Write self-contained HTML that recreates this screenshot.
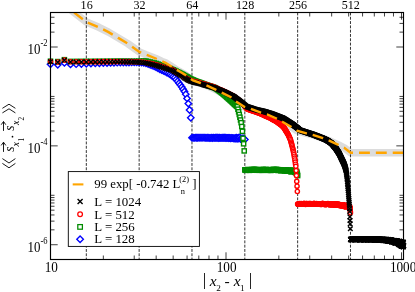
<!DOCTYPE html>
<html><head><meta charset="utf-8"><title>chart</title>
<style>html,body{margin:0;padding:0;background:#fff;font-family:"Liberation Serif",serif}svg{display:block;will-change:transform}</style></head>
<body>
<svg width="415" height="292" viewBox="0 0 415 292">
<rect width="415" height="292" fill="#fff"/>
<defs><clipPath id="c"><rect x="50.5" y="12.5" width="353" height="247"/></clipPath>
<path id="dm" d="M0-3.2L3.2 0L0 3.2L-3.2 0Z"/>
<rect id="sq" x="-2.1" y="-2.1" width="4.2" height="4.2"/>
<circle id="ci" r="2.1"/>
<path id="xx" d="M-2.3-2.3L2.3 2.3M-2.3 2.3L2.3-2.3"/>
</defs>
<path clip-path="url(#c)" d="M70 9L73.9 12.4L86.4 22L98.9 27.3L108.5 32.1L118.2 37.9L127.8 43.6L139.4 51.9L146.1 54.7L155.8 58.5L162 61.4L165.6 62.8L170.7 66L175.9 69.4L180.1 71.8L185.5 75L190.3 78.7L193 80.5L200.4 83L206 85.2L215.6 89.6L221.4 92.5L231 97.3L236 101.4L240 104L244.5 107L250.8 108.9L260.9 112.7L267 114.4L276.5 118.5L282.3 121.8L291 126.7L296.8 130.6L306.5 133.4L312.8 134.9L322.9 138.2L329.2 140.7L338.4 144.9L344.2 147.8L350.6 152.8L403.5 152.8" fill="none" stroke="#dcdcdc" stroke-width="7.5" stroke-linejoin="round"/>
<line x1="86.32" y1="12.5" x2="86.32" y2="259.5" stroke="#000" stroke-width="0.8" stroke-dasharray="2.9 1.4"/>
<line x1="139.15" y1="12.5" x2="139.15" y2="259.5" stroke="#000" stroke-width="0.8" stroke-dasharray="2.9 1.4"/>
<line x1="191.98" y1="12.5" x2="191.98" y2="259.5" stroke="#000" stroke-width="0.8" stroke-dasharray="2.9 1.4"/>
<line x1="244.82" y1="12.5" x2="244.82" y2="259.5" stroke="#000" stroke-width="0.8" stroke-dasharray="2.9 1.4"/>
<line x1="297.65" y1="12.5" x2="297.65" y2="259.5" stroke="#000" stroke-width="0.8" stroke-dasharray="2.9 1.4"/>
<line x1="350.48" y1="12.5" x2="350.48" y2="259.5" stroke="#000" stroke-width="0.8" stroke-dasharray="2.9 1.4"/>
<g fill="#fff" stroke="#0000ff" stroke-width="1.4">
<use href="#dm" x="50.5" y="64.31"/><use href="#dm" x="57.76" y="64.78"/><use href="#dm" x="64.4" y="62.9"/><use href="#dm" x="70.5" y="64.4"/><use href="#dm" x="76.15" y="64.18"/><use href="#dm" x="81.4" y="63.98"/><use href="#dm" x="86.32" y="63.79"/><use href="#dm" x="90.94" y="63.59"/><use href="#dm" x="95.3" y="63.4"/><use href="#dm" x="99.42" y="63.22"/><use href="#dm" x="103.33" y="63.1"/><use href="#dm" x="107.05" y="62.99"/><use href="#dm" x="110.6" y="62.88"/><use href="#dm" x="113.98" y="62.78"/><use href="#dm" x="117.23" y="62.68"/><use href="#dm" x="120.34" y="62.59"/><use href="#dm" x="123.33" y="62.55"/><use href="#dm" x="126.2" y="62.5"/><use href="#dm" x="128.98" y="62.46"/><use href="#dm" x="131.65" y="62.42"/><use href="#dm" x="134.23" y="62.38"/><use href="#dm" x="136.73" y="62.34"/><use href="#dm" x="139.15" y="62.32"/><use href="#dm" x="141.5" y="62.59"/><use href="#dm" x="143.77" y="62.86"/><use href="#dm" x="145.98" y="63.31"/><use href="#dm" x="148.13" y="64"/><use href="#dm" x="150.22" y="64.7"/><use href="#dm" x="152.25" y="65.58"/><use href="#dm" x="154.23" y="66.43"/><use href="#dm" x="156.16" y="67.28"/><use href="#dm" x="158.04" y="68.27"/><use href="#dm" x="159.88" y="69.24"/><use href="#dm" x="161.67" y="70.07"/><use href="#dm" x="163.43" y="70.88"/><use href="#dm" x="165.14" y="71.67"/><use href="#dm" x="166.81" y="72.55"/><use href="#dm" x="168.45" y="73.4"/><use href="#dm" x="170.06" y="74.34"/><use href="#dm" x="171.63" y="75.49"/><use href="#dm" x="173.17" y="76.62"/><use href="#dm" x="174.68" y="77.8"/><use href="#dm" x="176.16" y="79.5"/><use href="#dm" x="177.61" y="81.3"/><use href="#dm" x="179.04" y="83.2"/><use href="#dm" x="180.43" y="85.1"/><use href="#dm" x="181.81" y="87.1"/><use href="#dm" x="183.16" y="89.3"/><use href="#dm" x="184.48" y="91.5"/><use href="#dm" x="185.78" y="94.3"/><use href="#dm" x="187.07" y="98.4"/><use href="#dm" x="188.33" y="103.6"/><use href="#dm" x="189.56" y="110"/><use href="#dm" x="190.78" y="117.8"/><use href="#dm" x="191.98" y="137.75"/><use href="#dm" x="193.17" y="137.7"/><use href="#dm" x="194.33" y="137.85"/><use href="#dm" x="195.48" y="137.67"/><use href="#dm" x="196.61" y="137.81"/><use href="#dm" x="197.72" y="137.76"/><use href="#dm" x="198.81" y="137.67"/><use href="#dm" x="199.9" y="137.8"/><use href="#dm" x="200.96" y="137.66"/><use href="#dm" x="202.01" y="137.78"/><use href="#dm" x="203.05" y="137.67"/><use href="#dm" x="204.07" y="137.68"/><use href="#dm" x="205.08" y="137.78"/><use href="#dm" x="206.08" y="137.9"/><use href="#dm" x="207.06" y="137.69"/><use href="#dm" x="208.03" y="137.72"/><use href="#dm" x="208.99" y="137.84"/><use href="#dm" x="209.94" y="137.94"/><use href="#dm" x="210.87" y="137.83"/><use href="#dm" x="211.8" y="137.78"/><use href="#dm" x="212.71" y="137.95"/><use href="#dm" x="213.61" y="137.67"/><use href="#dm" x="214.5" y="137.92"/><use href="#dm" x="215.39" y="137.75"/><use href="#dm" x="216.26" y="137.71"/><use href="#dm" x="217.12" y="137.7"/><use href="#dm" x="217.97" y="137.77"/><use href="#dm" x="218.81" y="137.94"/><use href="#dm" x="219.64" y="137.73"/><use href="#dm" x="220.47" y="137.87"/><use href="#dm" x="221.28" y="137.9"/><use href="#dm" x="222.09" y="137.81"/><use href="#dm" x="222.89" y="137.89"/><use href="#dm" x="223.68" y="137.7"/><use href="#dm" x="224.46" y="137.71"/><use href="#dm" x="225.23" y="137.77"/><use href="#dm" x="226" y="137.99"/><use href="#dm" x="226.76" y="137.89"/><use href="#dm" x="227.51" y="137.84"/><use href="#dm" x="228.25" y="138"/><use href="#dm" x="228.99" y="137.94"/><use href="#dm" x="229.72" y="137.86"/><use href="#dm" x="230.44" y="138.2"/><use href="#dm" x="231.16" y="138.17"/><use href="#dm" x="231.87" y="137.85"/><use href="#dm" x="232.57" y="138.13"/><use href="#dm" x="233.26" y="138.11"/><use href="#dm" x="233.95" y="138.48"/><use href="#dm" x="234.64" y="138.39"/><use href="#dm" x="235.32" y="137.93"/><use href="#dm" x="235.99" y="138.8"/><use href="#dm" x="236.65" y="137.72"/><use href="#dm" x="237.31" y="138.15"/><use href="#dm" x="237.97" y="138.71"/><use href="#dm" x="238.62" y="137.74"/><use href="#dm" x="239.26" y="138.35"/><use href="#dm" x="239.9" y="137.48"/><use href="#dm" x="240.53" y="138.82"/><use href="#dm" x="241.16" y="139.12"/><use href="#dm" x="241.78" y="138.73"/><use href="#dm" x="242.4" y="139.62"/><use href="#dm" x="243.01" y="138.19"/><use href="#dm" x="243.62" y="139.52"/><use href="#dm" x="244.22" y="139.37"/><use href="#dm" x="244.82" y="139.5"/>
</g>
<g fill="#fff" stroke="#008b00" stroke-width="1.4">
<use href="#sq" x="50.5" y="61.21"/><use href="#sq" x="57.76" y="61.59"/><use href="#sq" x="64.4" y="59.7"/><use href="#sq" x="70.5" y="61.4"/><use href="#sq" x="76.15" y="61.38"/><use href="#sq" x="81.4" y="61.36"/><use href="#sq" x="86.32" y="61.35"/><use href="#sq" x="90.94" y="61.33"/><use href="#sq" x="95.3" y="61.32"/><use href="#sq" x="99.42" y="61.3"/><use href="#sq" x="103.33" y="61.28"/><use href="#sq" x="107.05" y="61.26"/><use href="#sq" x="110.6" y="61.25"/><use href="#sq" x="113.98" y="61.23"/><use href="#sq" x="117.23" y="61.21"/><use href="#sq" x="120.34" y="61.2"/><use href="#sq" x="123.33" y="61.24"/><use href="#sq" x="126.2" y="61.28"/><use href="#sq" x="128.98" y="61.31"/><use href="#sq" x="131.65" y="61.35"/><use href="#sq" x="134.23" y="61.38"/><use href="#sq" x="136.73" y="61.37"/><use href="#sq" x="139.15" y="61.27"/><use href="#sq" x="141.5" y="61.17"/><use href="#sq" x="143.77" y="61.08"/><use href="#sq" x="145.98" y="61.09"/><use href="#sq" x="148.13" y="61.57"/><use href="#sq" x="150.22" y="62.05"/><use href="#sq" x="152.25" y="62.51"/><use href="#sq" x="154.23" y="62.96"/><use href="#sq" x="156.16" y="63.49"/><use href="#sq" x="158.04" y="64.11"/><use href="#sq" x="159.88" y="64.73"/><use href="#sq" x="161.67" y="65.32"/><use href="#sq" x="163.43" y="65.91"/><use href="#sq" x="165.14" y="66.5"/><use href="#sq" x="166.81" y="67.19"/><use href="#sq" x="168.45" y="67.87"/><use href="#sq" x="170.06" y="68.53"/><use href="#sq" x="171.63" y="69.18"/><use href="#sq" x="173.17" y="69.81"/><use href="#sq" x="174.68" y="70.44"/><use href="#sq" x="176.16" y="71.16"/><use href="#sq" x="177.61" y="71.86"/><use href="#sq" x="179.04" y="72.55"/><use href="#sq" x="180.43" y="73.23"/><use href="#sq" x="181.81" y="73.92"/><use href="#sq" x="183.16" y="74.67"/><use href="#sq" x="184.48" y="75.4"/><use href="#sq" x="185.78" y="76.13"/><use href="#sq" x="187.07" y="76.84"/><use href="#sq" x="188.33" y="77.54"/><use href="#sq" x="189.56" y="78.23"/><use href="#sq" x="190.78" y="78.91"/><use href="#sq" x="191.98" y="79.49"/><use href="#sq" x="193.17" y="79.99"/><use href="#sq" x="194.33" y="80.49"/><use href="#sq" x="195.48" y="80.98"/><use href="#sq" x="196.61" y="81.41"/><use href="#sq" x="197.72" y="81.8"/><use href="#sq" x="198.81" y="82.18"/><use href="#sq" x="199.9" y="82.55"/><use href="#sq" x="200.96" y="82.92"/><use href="#sq" x="202.01" y="83.31"/><use href="#sq" x="203.05" y="83.7"/><use href="#sq" x="204.07" y="84.08"/><use href="#sq" x="205.08" y="84.46"/><use href="#sq" x="206.08" y="84.83"/><use href="#sq" x="207.06" y="85.15"/><use href="#sq" x="208.03" y="85.46"/><use href="#sq" x="208.99" y="85.78"/><use href="#sq" x="209.94" y="86.08"/><use href="#sq" x="210.87" y="86.39"/><use href="#sq" x="211.8" y="86.71"/><use href="#sq" x="212.71" y="87.02"/><use href="#sq" x="213.61" y="87.33"/><use href="#sq" x="214.5" y="87.63"/><use href="#sq" x="215.39" y="88.07"/><use href="#sq" x="216.26" y="88.69"/><use href="#sq" x="217.12" y="89.31"/><use href="#sq" x="217.97" y="89.91"/><use href="#sq" x="218.81" y="90.51"/><use href="#sq" x="219.64" y="91.12"/><use href="#sq" x="220.47" y="91.79"/><use href="#sq" x="221.28" y="92.45"/><use href="#sq" x="222.09" y="93.1"/><use href="#sq" x="222.89" y="93.75"/><use href="#sq" x="223.68" y="94.39"/><use href="#sq" x="224.46" y="95.04"/><use href="#sq" x="225.23" y="95.74"/><use href="#sq" x="226" y="96.42"/><use href="#sq" x="226.76" y="97.1"/><use href="#sq" x="227.51" y="97.78"/><use href="#sq" x="228.25" y="98.44"/><use href="#sq" x="228.99" y="99.1"/><use href="#sq" x="229.72" y="99.75"/><use href="#sq" x="230.44" y="100.4"/><use href="#sq" x="231.16" y="101.04"/><use href="#sq" x="231.87" y="101.68"/><use href="#sq" x="232.57" y="102.35"/><use href="#sq" x="233.26" y="103.01"/><use href="#sq" x="233.95" y="103.68"/><use href="#sq" x="234.64" y="104.32"/><use href="#sq" x="235.32" y="104.92"/><use href="#sq" x="235.99" y="105.52"/><use href="#sq" x="236.65" y="106.11"/><use href="#sq" x="237.31" y="106.7"/><use href="#sq" x="237.97" y="109.2"/><use href="#sq" x="238.62" y="111.8"/><use href="#sq" x="239.26" y="114.5"/><use href="#sq" x="239.9" y="117.2"/><use href="#sq" x="240.53" y="120"/><use href="#sq" x="241.16" y="122.7"/><use href="#sq" x="241.78" y="126.5"/><use href="#sq" x="242.4" y="131.3"/><use href="#sq" x="243.01" y="138.3"/><use href="#sq" x="243.62" y="143.8"/><use href="#sq" x="244.22" y="150.9"/><use href="#sq" x="244.82" y="169.86"/><use href="#sq" x="245.41" y="170.21"/><use href="#sq" x="246" y="170.3"/><use href="#sq" x="246.58" y="169.88"/><use href="#sq" x="247.16" y="170.05"/><use href="#sq" x="247.74" y="169.5"/><use href="#sq" x="248.31" y="170.08"/><use href="#sq" x="248.87" y="170.03"/><use href="#sq" x="249.44" y="170.34"/><use href="#sq" x="249.99" y="170.19"/><use href="#sq" x="250.55" y="169.71"/><use href="#sq" x="251.1" y="169.8"/><use href="#sq" x="251.65" y="170.05"/><use href="#sq" x="252.19" y="169.47"/><use href="#sq" x="252.73" y="169.87"/><use href="#sq" x="253.26" y="169.6"/><use href="#sq" x="253.79" y="169.56"/><use href="#sq" x="254.32" y="169.5"/><use href="#sq" x="254.84" y="170.14"/><use href="#sq" x="255.36" y="169.57"/><use href="#sq" x="255.88" y="169.67"/><use href="#sq" x="256.39" y="169.8"/><use href="#sq" x="256.9" y="170.24"/><use href="#sq" x="257.41" y="169.52"/><use href="#sq" x="257.91" y="169.86"/><use href="#sq" x="258.41" y="169.95"/><use href="#sq" x="258.91" y="170.25"/><use href="#sq" x="259.4" y="170.19"/><use href="#sq" x="259.89" y="170.23"/><use href="#sq" x="260.38" y="169.7"/><use href="#sq" x="260.86" y="169.83"/><use href="#sq" x="261.35" y="169.78"/><use href="#sq" x="261.82" y="170.25"/><use href="#sq" x="262.3" y="170.32"/><use href="#sq" x="262.77" y="169.59"/><use href="#sq" x="263.24" y="169.62"/><use href="#sq" x="263.71" y="169.67"/><use href="#sq" x="264.17" y="169.67"/><use href="#sq" x="264.63" y="169.9"/><use href="#sq" x="265.09" y="170"/><use href="#sq" x="265.54" y="169.7"/><use href="#sq" x="265.99" y="169.47"/><use href="#sq" x="266.44" y="169.85"/><use href="#sq" x="266.89" y="169.81"/><use href="#sq" x="267.34" y="169.99"/><use href="#sq" x="267.78" y="170.34"/><use href="#sq" x="268.22" y="170.1"/><use href="#sq" x="268.65" y="169.95"/><use href="#sq" x="269.09" y="170.05"/><use href="#sq" x="269.52" y="170.1"/><use href="#sq" x="269.95" y="169.54"/><use href="#sq" x="270.38" y="170.31"/><use href="#sq" x="270.8" y="170.21"/><use href="#sq" x="271.22" y="170.3"/><use href="#sq" x="271.64" y="170.24"/><use href="#sq" x="272.06" y="169.87"/><use href="#sq" x="272.48" y="169.88"/><use href="#sq" x="272.89" y="169.62"/><use href="#sq" x="273.3" y="170.11"/><use href="#sq" x="273.71" y="169.59"/><use href="#sq" x="274.11" y="169.6"/><use href="#sq" x="274.52" y="169.74"/><use href="#sq" x="274.92" y="169.7"/><use href="#sq" x="275.32" y="169.87"/><use href="#sq" x="275.72" y="169.61"/><use href="#sq" x="276.12" y="169.57"/><use href="#sq" x="276.51" y="169.72"/><use href="#sq" x="276.9" y="169.68"/><use href="#sq" x="277.29" y="169.94"/><use href="#sq" x="277.68" y="169.62"/><use href="#sq" x="278.06" y="170.45"/><use href="#sq" x="278.45" y="170.21"/><use href="#sq" x="278.83" y="169.77"/><use href="#sq" x="279.21" y="169.88"/><use href="#sq" x="279.59" y="169.98"/><use href="#sq" x="279.97" y="170.01"/><use href="#sq" x="280.34" y="169.78"/><use href="#sq" x="280.71" y="170.53"/><use href="#sq" x="281.08" y="170.69"/><use href="#sq" x="281.45" y="170.17"/><use href="#sq" x="281.82" y="170.2"/><use href="#sq" x="282.19" y="169.81"/><use href="#sq" x="282.55" y="169.83"/><use href="#sq" x="282.91" y="170.1"/><use href="#sq" x="283.27" y="170.04"/><use href="#sq" x="283.63" y="170.66"/><use href="#sq" x="283.99" y="169.95"/><use href="#sq" x="284.34" y="169.82"/><use href="#sq" x="284.7" y="170.87"/><use href="#sq" x="285.05" y="170.42"/><use href="#sq" x="285.4" y="170"/><use href="#sq" x="285.75" y="170.48"/><use href="#sq" x="286.1" y="169.89"/><use href="#sq" x="286.44" y="170.51"/><use href="#sq" x="286.78" y="171.08"/><use href="#sq" x="287.13" y="170.98"/><use href="#sq" x="287.47" y="170.8"/><use href="#sq" x="287.81" y="170.27"/><use href="#sq" x="288.15" y="170.43"/><use href="#sq" x="288.48" y="170.19"/><use href="#sq" x="288.82" y="171.03"/><use href="#sq" x="289.15" y="170.74"/><use href="#sq" x="289.48" y="171.11"/><use href="#sq" x="289.81" y="170.51"/><use href="#sq" x="290.14" y="170.38"/><use href="#sq" x="290.47" y="171.28"/><use href="#sq" x="290.8" y="171.58"/><use href="#sq" x="291.12" y="171.42"/><use href="#sq" x="291.45" y="171.4"/><use href="#sq" x="291.77" y="171.46"/><use href="#sq" x="292.09" y="171.38"/><use href="#sq" x="292.41" y="170.57"/><use href="#sq" x="292.73" y="171.1"/><use href="#sq" x="293.04" y="170.85"/><use href="#sq" x="293.36" y="170.3"/><use href="#sq" x="293.67" y="170.32"/><use href="#sq" x="293.99" y="170.81"/><use href="#sq" x="294.3" y="170.81"/><use href="#sq" x="294.61" y="171.69"/><use href="#sq" x="294.92" y="172.27"/><use href="#sq" x="295.23" y="171.29"/><use href="#sq" x="295.53" y="172.37"/><use href="#sq" x="295.84" y="172.55"/><use href="#sq" x="296.14" y="172.55"/><use href="#sq" x="296.45" y="171.29"/><use href="#sq" x="296.75" y="172.12"/><use href="#sq" x="297.05" y="173.3"/><use href="#sq" x="297.35" y="174.38"/><use href="#sq" x="297.65" y="175.56"/>
</g>
<g fill="#fff" stroke="#ff0000" stroke-width="1.4">
<use href="#ci" x="50.5" y="61.61"/><use href="#ci" x="57.76" y="61.98"/><use href="#ci" x="64.4" y="60.08"/><use href="#ci" x="70.5" y="61.78"/><use href="#ci" x="76.15" y="61.75"/><use href="#ci" x="81.4" y="61.73"/><use href="#ci" x="86.32" y="61.71"/><use href="#ci" x="90.94" y="61.68"/><use href="#ci" x="95.3" y="61.67"/><use href="#ci" x="99.42" y="61.65"/><use href="#ci" x="103.33" y="61.62"/><use href="#ci" x="107.05" y="61.6"/><use href="#ci" x="110.6" y="61.58"/><use href="#ci" x="113.98" y="61.56"/><use href="#ci" x="117.23" y="61.54"/><use href="#ci" x="120.34" y="61.53"/><use href="#ci" x="123.33" y="61.56"/><use href="#ci" x="126.2" y="61.59"/><use href="#ci" x="128.98" y="61.62"/><use href="#ci" x="131.65" y="61.65"/><use href="#ci" x="134.23" y="61.68"/><use href="#ci" x="136.73" y="61.76"/><use href="#ci" x="139.15" y="61.93"/><use href="#ci" x="141.5" y="62.11"/><use href="#ci" x="143.77" y="62.27"/><use href="#ci" x="145.98" y="62.49"/><use href="#ci" x="148.13" y="62.96"/><use href="#ci" x="150.22" y="63.41"/><use href="#ci" x="152.25" y="63.86"/><use href="#ci" x="154.23" y="64.29"/><use href="#ci" x="156.16" y="64.78"/><use href="#ci" x="158.04" y="65.34"/><use href="#ci" x="159.88" y="65.89"/><use href="#ci" x="161.67" y="66.43"/><use href="#ci" x="163.43" y="66.96"/><use href="#ci" x="165.14" y="67.47"/><use href="#ci" x="166.81" y="67.97"/><use href="#ci" x="168.45" y="68.45"/><use href="#ci" x="170.06" y="68.93"/><use href="#ci" x="171.63" y="69.39"/><use href="#ci" x="173.17" y="70.17"/><use href="#ci" x="174.68" y="71.03"/><use href="#ci" x="176.16" y="71.88"/><use href="#ci" x="177.61" y="72.71"/><use href="#ci" x="179.04" y="73.53"/><use href="#ci" x="180.43" y="74.33"/><use href="#ci" x="181.81" y="75.15"/><use href="#ci" x="183.16" y="76.11"/><use href="#ci" x="184.48" y="77.06"/><use href="#ci" x="185.78" y="77.99"/><use href="#ci" x="187.07" y="78.77"/><use href="#ci" x="188.33" y="79.37"/><use href="#ci" x="189.56" y="79.97"/><use href="#ci" x="190.78" y="80.55"/><use href="#ci" x="191.98" y="80.97"/><use href="#ci" x="193.17" y="81.27"/><use href="#ci" x="194.33" y="81.56"/><use href="#ci" x="195.48" y="81.84"/><use href="#ci" x="196.61" y="82.13"/><use href="#ci" x="197.72" y="82.4"/><use href="#ci" x="198.81" y="82.68"/><use href="#ci" x="199.9" y="82.95"/><use href="#ci" x="200.96" y="83.22"/><use href="#ci" x="202.01" y="83.51"/><use href="#ci" x="203.05" y="83.81"/><use href="#ci" x="204.07" y="84.1"/><use href="#ci" x="205.08" y="84.38"/><use href="#ci" x="206.08" y="84.66"/><use href="#ci" x="207.06" y="84.94"/><use href="#ci" x="208.03" y="85.22"/><use href="#ci" x="208.99" y="85.49"/><use href="#ci" x="209.94" y="85.75"/><use href="#ci" x="210.87" y="86.03"/><use href="#ci" x="211.8" y="86.33"/><use href="#ci" x="212.71" y="86.63"/><use href="#ci" x="213.61" y="86.92"/><use href="#ci" x="214.5" y="87.21"/><use href="#ci" x="215.39" y="87.58"/><use href="#ci" x="216.26" y="87.96"/><use href="#ci" x="217.12" y="88.34"/><use href="#ci" x="217.97" y="88.71"/><use href="#ci" x="218.81" y="89.08"/><use href="#ci" x="219.64" y="89.45"/><use href="#ci" x="220.47" y="89.81"/><use href="#ci" x="221.28" y="90.16"/><use href="#ci" x="222.09" y="90.52"/><use href="#ci" x="222.89" y="90.87"/><use href="#ci" x="223.68" y="91.21"/><use href="#ci" x="224.46" y="91.57"/><use href="#ci" x="225.23" y="91.97"/><use href="#ci" x="226" y="92.36"/><use href="#ci" x="226.76" y="92.76"/><use href="#ci" x="227.51" y="93.15"/><use href="#ci" x="228.25" y="93.53"/><use href="#ci" x="228.99" y="93.91"/><use href="#ci" x="229.72" y="94.29"/><use href="#ci" x="230.44" y="94.66"/><use href="#ci" x="231.16" y="95.04"/><use href="#ci" x="231.87" y="95.4"/><use href="#ci" x="232.57" y="95.77"/><use href="#ci" x="233.26" y="96.13"/><use href="#ci" x="233.95" y="96.5"/><use href="#ci" x="234.64" y="97.03"/><use href="#ci" x="235.32" y="97.55"/><use href="#ci" x="235.99" y="98.07"/><use href="#ci" x="236.65" y="98.58"/><use href="#ci" x="237.31" y="99.09"/><use href="#ci" x="237.97" y="99.59"/><use href="#ci" x="238.62" y="100.09"/><use href="#ci" x="239.26" y="100.59"/><use href="#ci" x="239.9" y="101.08"/><use href="#ci" x="240.53" y="101.57"/><use href="#ci" x="241.16" y="102.05"/><use href="#ci" x="241.78" y="102.53"/><use href="#ci" x="242.4" y="103.2"/><use href="#ci" x="243.01" y="103.98"/><use href="#ci" x="243.62" y="104.75"/><use href="#ci" x="244.22" y="105.51"/><use href="#ci" x="244.82" y="106.27"/><use href="#ci" x="245.41" y="107.02"/><use href="#ci" x="246" y="107.76"/><use href="#ci" x="246.58" y="108.44"/><use href="#ci" x="247.16" y="108.7"/><use href="#ci" x="247.74" y="108.97"/><use href="#ci" x="248.31" y="109.23"/><use href="#ci" x="248.87" y="109.49"/><use href="#ci" x="249.44" y="109.74"/><use href="#ci" x="249.99" y="110"/><use href="#ci" x="250.55" y="110.17"/><use href="#ci" x="251.1" y="110.35"/><use href="#ci" x="251.65" y="110.52"/><use href="#ci" x="252.19" y="110.69"/><use href="#ci" x="252.73" y="110.86"/><use href="#ci" x="253.26" y="111.03"/><use href="#ci" x="253.79" y="111.2"/><use href="#ci" x="254.32" y="111.37"/><use href="#ci" x="254.84" y="111.53"/><use href="#ci" x="255.36" y="111.7"/><use href="#ci" x="255.88" y="111.86"/><use href="#ci" x="256.39" y="112.04"/><use href="#ci" x="256.9" y="112.22"/><use href="#ci" x="257.41" y="112.39"/><use href="#ci" x="257.91" y="112.57"/><use href="#ci" x="258.41" y="112.74"/><use href="#ci" x="258.91" y="112.92"/><use href="#ci" x="259.4" y="113.09"/><use href="#ci" x="259.89" y="113.26"/><use href="#ci" x="260.38" y="113.48"/><use href="#ci" x="260.86" y="113.71"/><use href="#ci" x="261.35" y="113.94"/><use href="#ci" x="261.82" y="114.17"/><use href="#ci" x="262.3" y="114.39"/><use href="#ci" x="262.77" y="114.62"/><use href="#ci" x="263.24" y="114.84"/><use href="#ci" x="263.71" y="115.06"/><use href="#ci" x="264.17" y="115.27"/><use href="#ci" x="264.63" y="115.47"/><use href="#ci" x="265.09" y="115.67"/><use href="#ci" x="265.54" y="115.87"/><use href="#ci" x="265.99" y="116.06"/><use href="#ci" x="266.44" y="116.26"/><use href="#ci" x="266.89" y="116.45"/><use href="#ci" x="267.34" y="116.65"/><use href="#ci" x="267.78" y="116.84"/><use href="#ci" x="268.22" y="117.03"/><use href="#ci" x="268.65" y="117.22"/><use href="#ci" x="269.09" y="117.4"/><use href="#ci" x="269.52" y="117.59"/><use href="#ci" x="269.95" y="117.78"/><use href="#ci" x="270.38" y="118.01"/><use href="#ci" x="270.8" y="118.25"/><use href="#ci" x="271.22" y="118.48"/><use href="#ci" x="271.64" y="118.72"/><use href="#ci" x="272.06" y="118.95"/><use href="#ci" x="272.48" y="119.19"/><use href="#ci" x="272.89" y="119.42"/><use href="#ci" x="273.3" y="119.65"/><use href="#ci" x="273.71" y="119.88"/><use href="#ci" x="274.11" y="120.1"/><use href="#ci" x="274.52" y="120.33"/><use href="#ci" x="274.92" y="120.56"/><use href="#ci" x="275.32" y="120.81"/><use href="#ci" x="275.72" y="121.07"/><use href="#ci" x="276.12" y="121.34"/><use href="#ci" x="276.51" y="121.6"/><use href="#ci" x="276.9" y="121.85"/><use href="#ci" x="277.29" y="122.11"/><use href="#ci" x="277.68" y="122.37"/><use href="#ci" x="278.06" y="122.62"/><use href="#ci" x="278.45" y="122.88"/><use href="#ci" x="278.83" y="123.13"/><use href="#ci" x="279.21" y="123.38"/><use href="#ci" x="279.59" y="123.63"/><use href="#ci" x="279.97" y="123.88"/><use href="#ci" x="280.34" y="124.2"/><use href="#ci" x="280.71" y="124.53"/><use href="#ci" x="281.08" y="124.85"/><use href="#ci" x="281.45" y="125.18"/><use href="#ci" x="281.82" y="125.5"/><use href="#ci" x="282.19" y="125.82"/><use href="#ci" x="282.55" y="126.14"/><use href="#ci" x="282.91" y="126.46"/><use href="#ci" x="283.27" y="126.78"/><use href="#ci" x="283.63" y="127.29"/><use href="#ci" x="283.99" y="127.81"/><use href="#ci" x="284.34" y="128.33"/><use href="#ci" x="284.7" y="128.85"/><use href="#ci" x="285.05" y="129.38"/><use href="#ci" x="285.4" y="129.97"/><use href="#ci" x="285.75" y="130.55"/><use href="#ci" x="286.1" y="131.13"/><use href="#ci" x="286.44" y="131.7"/><use href="#ci" x="286.78" y="132.27"/><use href="#ci" x="287.13" y="132.85"/><use href="#ci" x="287.47" y="133.41"/><use href="#ci" x="287.81" y="133.98"/><use href="#ci" x="288.15" y="134.62"/><use href="#ci" x="288.48" y="135.35"/><use href="#ci" x="288.82" y="136.07"/><use href="#ci" x="289.15" y="136.79"/><use href="#ci" x="289.48" y="137.51"/><use href="#ci" x="289.81" y="138.23"/><use href="#ci" x="290.14" y="138.94"/><use href="#ci" x="290.47" y="139.77"/><use href="#ci" x="290.8" y="140.99"/><use href="#ci" x="291.12" y="142.21"/><use href="#ci" x="291.45" y="143.42"/><use href="#ci" x="291.77" y="144.63"/><use href="#ci" x="292.09" y="145.87"/><use href="#ci" x="292.41" y="147.2"/><use href="#ci" x="292.73" y="148.53"/><use href="#ci" x="293.04" y="149.85"/><use href="#ci" x="293.36" y="151.3"/><use href="#ci" x="293.67" y="152.87"/><use href="#ci" x="293.99" y="154.43"/><use href="#ci" x="294.3" y="156.19"/><use href="#ci" x="294.61" y="158.05"/><use href="#ci" x="294.92" y="159.93"/><use href="#ci" x="295.23" y="162.06"/><use href="#ci" x="295.53" y="164.18"/><use href="#ci" x="295.84" y="166.3"/><use href="#ci" x="296.14" y="170.6"/><use href="#ci" x="296.45" y="175.6"/><use href="#ci" x="296.75" y="181.4"/><use href="#ci" x="297.05" y="186.2"/><use href="#ci" x="297.35" y="191.5"/><use href="#ci" x="297.65" y="204.01"/><use href="#ci" x="297.94" y="204.26"/><use href="#ci" x="298.24" y="204.21"/><use href="#ci" x="298.53" y="203.88"/><use href="#ci" x="298.83" y="204.04"/><use href="#ci" x="299.12" y="204.17"/><use href="#ci" x="299.41" y="203.53"/><use href="#ci" x="299.7" y="204.04"/><use href="#ci" x="299.99" y="204.27"/><use href="#ci" x="300.28" y="204.15"/><use href="#ci" x="300.57" y="204.13"/><use href="#ci" x="300.85" y="203.88"/><use href="#ci" x="301.14" y="203.61"/><use href="#ci" x="301.42" y="204.16"/><use href="#ci" x="301.7" y="203.75"/><use href="#ci" x="301.99" y="204.17"/><use href="#ci" x="302.27" y="204.32"/><use href="#ci" x="302.55" y="203.81"/><use href="#ci" x="302.83" y="203.81"/><use href="#ci" x="303.1" y="204.3"/><use href="#ci" x="303.38" y="204.1"/><use href="#ci" x="303.66" y="203.6"/><use href="#ci" x="303.93" y="203.56"/><use href="#ci" x="304.2" y="203.59"/><use href="#ci" x="304.48" y="204.26"/><use href="#ci" x="304.75" y="204.18"/><use href="#ci" x="305.02" y="203.58"/><use href="#ci" x="305.29" y="204.19"/><use href="#ci" x="305.56" y="204.33"/><use href="#ci" x="305.83" y="204.04"/><use href="#ci" x="306.09" y="203.77"/><use href="#ci" x="306.36" y="203.94"/><use href="#ci" x="306.62" y="203.57"/><use href="#ci" x="306.89" y="203.46"/><use href="#ci" x="307.15" y="204.32"/><use href="#ci" x="307.41" y="204.04"/><use href="#ci" x="307.67" y="203.92"/><use href="#ci" x="307.94" y="204.29"/><use href="#ci" x="308.19" y="203.84"/><use href="#ci" x="308.45" y="204.24"/><use href="#ci" x="308.71" y="204.19"/><use href="#ci" x="308.97" y="203.64"/><use href="#ci" x="309.22" y="203.68"/><use href="#ci" x="309.48" y="203.72"/><use href="#ci" x="309.73" y="203.67"/><use href="#ci" x="309.99" y="203.98"/><use href="#ci" x="310.24" y="203.69"/><use href="#ci" x="310.49" y="203.83"/><use href="#ci" x="310.74" y="203.57"/><use href="#ci" x="310.99" y="204.27"/><use href="#ci" x="311.24" y="203.77"/><use href="#ci" x="311.49" y="203.87"/><use href="#ci" x="311.74" y="203.98"/><use href="#ci" x="311.99" y="204.27"/><use href="#ci" x="312.23" y="203.83"/><use href="#ci" x="312.48" y="204.28"/><use href="#ci" x="312.72" y="203.91"/><use href="#ci" x="312.97" y="203.94"/><use href="#ci" x="313.21" y="203.93"/><use href="#ci" x="313.45" y="203.47"/><use href="#ci" x="313.7" y="203.85"/><use href="#ci" x="313.94" y="203.62"/><use href="#ci" x="314.18" y="203.46"/><use href="#ci" x="314.42" y="204.18"/><use href="#ci" x="314.65" y="203.62"/><use href="#ci" x="314.89" y="203.89"/><use href="#ci" x="315.13" y="204.12"/><use href="#ci" x="315.37" y="203.97"/><use href="#ci" x="315.6" y="203.76"/><use href="#ci" x="315.84" y="203.93"/><use href="#ci" x="316.07" y="203.97"/><use href="#ci" x="316.3" y="204.17"/><use href="#ci" x="316.54" y="203.56"/><use href="#ci" x="316.77" y="203.98"/><use href="#ci" x="317" y="203.7"/><use href="#ci" x="317.23" y="203.72"/><use href="#ci" x="317.46" y="204.17"/><use href="#ci" x="317.69" y="203.93"/><use href="#ci" x="317.92" y="203.98"/><use href="#ci" x="318.15" y="204.16"/><use href="#ci" x="318.37" y="204.3"/><use href="#ci" x="318.6" y="203.88"/><use href="#ci" x="318.82" y="204.04"/><use href="#ci" x="319.05" y="203.94"/><use href="#ci" x="319.27" y="203.95"/><use href="#ci" x="319.5" y="204.12"/><use href="#ci" x="319.72" y="203.9"/><use href="#ci" x="319.94" y="203.98"/><use href="#ci" x="320.17" y="203.93"/><use href="#ci" x="320.39" y="204.35"/><use href="#ci" x="320.61" y="204.13"/><use href="#ci" x="320.83" y="204.3"/><use href="#ci" x="321.05" y="204.36"/><use href="#ci" x="321.27" y="203.74"/><use href="#ci" x="321.48" y="204.02"/><use href="#ci" x="321.7" y="204.37"/><use href="#ci" x="321.92" y="204.28"/><use href="#ci" x="322.13" y="203.64"/><use href="#ci" x="322.35" y="203.63"/><use href="#ci" x="322.57" y="203.93"/><use href="#ci" x="322.78" y="203.59"/><use href="#ci" x="322.99" y="203.75"/><use href="#ci" x="323.21" y="203.6"/><use href="#ci" x="323.42" y="204.15"/><use href="#ci" x="323.63" y="204.26"/><use href="#ci" x="323.84" y="204.36"/><use href="#ci" x="324.05" y="203.69"/><use href="#ci" x="324.26" y="204.21"/><use href="#ci" x="324.47" y="204.16"/><use href="#ci" x="324.68" y="203.69"/><use href="#ci" x="324.89" y="204.37"/><use href="#ci" x="325.1" y="204.46"/><use href="#ci" x="325.31" y="203.78"/><use href="#ci" x="325.51" y="204.45"/><use href="#ci" x="325.72" y="203.95"/><use href="#ci" x="325.93" y="204.04"/><use href="#ci" x="326.13" y="204.51"/><use href="#ci" x="326.33" y="204.37"/><use href="#ci" x="326.54" y="203.75"/><use href="#ci" x="326.74" y="204.01"/><use href="#ci" x="326.95" y="204.09"/><use href="#ci" x="327.15" y="203.94"/><use href="#ci" x="327.35" y="203.81"/><use href="#ci" x="327.55" y="203.93"/><use href="#ci" x="327.75" y="204.31"/><use href="#ci" x="327.95" y="203.66"/><use href="#ci" x="328.15" y="204.17"/><use href="#ci" x="328.35" y="204.07"/><use href="#ci" x="328.55" y="203.68"/><use href="#ci" x="328.75" y="203.98"/><use href="#ci" x="328.95" y="204.26"/><use href="#ci" x="329.14" y="204.17"/><use href="#ci" x="329.34" y="203.75"/><use href="#ci" x="329.54" y="204.63"/><use href="#ci" x="329.73" y="204.45"/><use href="#ci" x="329.93" y="204.64"/><use href="#ci" x="330.12" y="203.82"/><use href="#ci" x="330.32" y="203.98"/><use href="#ci" x="330.51" y="203.78"/><use href="#ci" x="330.7" y="204.49"/><use href="#ci" x="330.9" y="204.01"/><use href="#ci" x="331.09" y="203.89"/><use href="#ci" x="331.28" y="204.18"/><use href="#ci" x="331.47" y="204.67"/><use href="#ci" x="331.66" y="204.59"/><use href="#ci" x="331.85" y="204.05"/><use href="#ci" x="332.04" y="203.95"/><use href="#ci" x="332.23" y="204.72"/><use href="#ci" x="332.42" y="204.39"/><use href="#ci" x="332.61" y="204.53"/><use href="#ci" x="332.8" y="203.94"/><use href="#ci" x="332.98" y="203.91"/><use href="#ci" x="333.17" y="204.56"/><use href="#ci" x="333.36" y="204.3"/><use href="#ci" x="333.54" y="203.96"/><use href="#ci" x="333.73" y="204.85"/><use href="#ci" x="333.91" y="204.55"/><use href="#ci" x="334.1" y="204.74"/><use href="#ci" x="334.28" y="204.02"/><use href="#ci" x="334.47" y="204.83"/><use href="#ci" x="334.65" y="204.03"/><use href="#ci" x="334.83" y="204.86"/><use href="#ci" x="335.02" y="204.45"/><use href="#ci" x="335.2" y="204.35"/><use href="#ci" x="335.38" y="204.59"/><use href="#ci" x="335.56" y="205"/><use href="#ci" x="335.74" y="204.32"/><use href="#ci" x="335.92" y="204.18"/><use href="#ci" x="336.1" y="204.62"/><use href="#ci" x="336.28" y="204.33"/><use href="#ci" x="336.46" y="204.2"/><use href="#ci" x="336.64" y="204.28"/><use href="#ci" x="336.82" y="204.17"/><use href="#ci" x="337" y="204.35"/><use href="#ci" x="337.17" y="204.49"/><use href="#ci" x="337.35" y="204.5"/><use href="#ci" x="337.53" y="205.03"/><use href="#ci" x="337.7" y="204.51"/><use href="#ci" x="337.88" y="204.77"/><use href="#ci" x="338.05" y="204.42"/><use href="#ci" x="338.23" y="204.63"/><use href="#ci" x="338.4" y="204.27"/><use href="#ci" x="338.58" y="204.56"/><use href="#ci" x="338.75" y="204.3"/><use href="#ci" x="338.93" y="205.17"/><use href="#ci" x="339.1" y="204.97"/><use href="#ci" x="339.27" y="204.56"/><use href="#ci" x="339.44" y="204.92"/><use href="#ci" x="339.62" y="205.51"/><use href="#ci" x="339.79" y="204.51"/><use href="#ci" x="339.96" y="205.42"/><use href="#ci" x="340.13" y="204.96"/><use href="#ci" x="340.3" y="205.06"/><use href="#ci" x="340.47" y="205.51"/><use href="#ci" x="340.64" y="204.98"/><use href="#ci" x="340.81" y="205.15"/><use href="#ci" x="340.98" y="205.41"/><use href="#ci" x="341.15" y="205.82"/><use href="#ci" x="341.31" y="205"/><use href="#ci" x="341.48" y="205.68"/><use href="#ci" x="341.65" y="205.54"/><use href="#ci" x="341.82" y="205.47"/><use href="#ci" x="341.98" y="205.18"/><use href="#ci" x="342.15" y="205.13"/><use href="#ci" x="342.31" y="204.75"/><use href="#ci" x="342.48" y="204.88"/><use href="#ci" x="342.64" y="204.81"/><use href="#ci" x="342.81" y="205.8"/><use href="#ci" x="342.97" y="205.13"/><use href="#ci" x="343.14" y="205.02"/><use href="#ci" x="343.3" y="204.93"/><use href="#ci" x="343.47" y="206.08"/><use href="#ci" x="343.63" y="206.16"/><use href="#ci" x="343.79" y="205.89"/><use href="#ci" x="343.95" y="205.32"/><use href="#ci" x="344.12" y="205.29"/><use href="#ci" x="344.28" y="205.4"/><use href="#ci" x="344.44" y="205.69"/><use href="#ci" x="344.6" y="205.24"/><use href="#ci" x="344.76" y="205.73"/><use href="#ci" x="344.92" y="205.46"/><use href="#ci" x="345.08" y="206.65"/><use href="#ci" x="345.24" y="206.71"/><use href="#ci" x="345.4" y="206.03"/><use href="#ci" x="345.56" y="205.55"/><use href="#ci" x="345.72" y="206.82"/><use href="#ci" x="345.87" y="205.72"/><use href="#ci" x="346.03" y="205.84"/><use href="#ci" x="346.19" y="205.24"/><use href="#ci" x="346.35" y="205.95"/><use href="#ci" x="346.5" y="206.15"/><use href="#ci" x="346.66" y="206.24"/><use href="#ci" x="346.82" y="205.72"/><use href="#ci" x="346.97" y="206.32"/><use href="#ci" x="347.13" y="205.4"/><use href="#ci" x="347.28" y="205.93"/><use href="#ci" x="347.44" y="205.63"/><use href="#ci" x="347.59" y="206.27"/><use href="#ci" x="347.75" y="205.59"/><use href="#ci" x="347.9" y="205.58"/><use href="#ci" x="348.06" y="206.19"/><use href="#ci" x="348.21" y="206.08"/><use href="#ci" x="348.36" y="206.85"/><use href="#ci" x="348.52" y="206.78"/><use href="#ci" x="348.67" y="207.3"/><use href="#ci" x="348.82" y="207.14"/><use href="#ci" x="348.97" y="207.32"/><use href="#ci" x="349.13" y="207.73"/><use href="#ci" x="349.28" y="206.68"/><use href="#ci" x="349.43" y="206.58"/><use href="#ci" x="349.58" y="208.14"/><use href="#ci" x="349.73" y="206.24"/><use href="#ci" x="349.88" y="207.64"/><use href="#ci" x="350.03" y="208.63"/><use href="#ci" x="350.18" y="208.34"/><use href="#ci" x="350.33" y="211.46"/><use href="#ci" x="350.48" y="212.78"/>
</g>
<g fill="none" stroke="#000" stroke-width="1.45">
<use href="#xx" x="50.5" y="61.81"/><use href="#xx" x="57.76" y="62.19"/><use href="#xx" x="64.4" y="60.3"/><use href="#xx" x="70.5" y="62"/><use href="#xx" x="76.15" y="61.98"/><use href="#xx" x="81.4" y="61.96"/><use href="#xx" x="86.32" y="61.95"/><use href="#xx" x="90.94" y="61.93"/><use href="#xx" x="95.3" y="61.92"/><use href="#xx" x="99.42" y="61.9"/><use href="#xx" x="103.33" y="61.88"/><use href="#xx" x="107.05" y="61.86"/><use href="#xx" x="110.6" y="61.85"/><use href="#xx" x="113.98" y="61.83"/><use href="#xx" x="117.23" y="61.81"/><use href="#xx" x="120.34" y="61.8"/><use href="#xx" x="123.33" y="61.84"/><use href="#xx" x="126.2" y="61.88"/><use href="#xx" x="128.98" y="61.91"/><use href="#xx" x="131.65" y="61.95"/><use href="#xx" x="134.23" y="61.98"/><use href="#xx" x="136.73" y="62.07"/><use href="#xx" x="139.15" y="62.3"/><use href="#xx" x="141.5" y="62.52"/><use href="#xx" x="143.77" y="62.73"/><use href="#xx" x="145.98" y="62.99"/><use href="#xx" x="148.13" y="63.53"/><use href="#xx" x="150.22" y="64.04"/><use href="#xx" x="152.25" y="64.55"/><use href="#xx" x="154.23" y="65.04"/><use href="#xx" x="156.16" y="65.56"/><use href="#xx" x="158.04" y="66.13"/><use href="#xx" x="159.88" y="66.68"/><use href="#xx" x="161.67" y="67.23"/><use href="#xx" x="163.43" y="67.75"/><use href="#xx" x="165.14" y="68.27"/><use href="#xx" x="166.81" y="68.77"/><use href="#xx" x="168.45" y="69.25"/><use href="#xx" x="170.06" y="69.73"/><use href="#xx" x="171.63" y="70.19"/><use href="#xx" x="173.17" y="70.97"/><use href="#xx" x="174.68" y="71.83"/><use href="#xx" x="176.16" y="72.68"/><use href="#xx" x="177.61" y="73.51"/><use href="#xx" x="179.04" y="74.33"/><use href="#xx" x="180.43" y="75.13"/><use href="#xx" x="181.81" y="75.95"/><use href="#xx" x="183.16" y="76.91"/><use href="#xx" x="184.48" y="77.86"/><use href="#xx" x="185.78" y="78.79"/><use href="#xx" x="187.07" y="79.57"/><use href="#xx" x="188.33" y="80.17"/><use href="#xx" x="189.56" y="80.77"/><use href="#xx" x="190.78" y="81.35"/><use href="#xx" x="191.98" y="81.77"/><use href="#xx" x="193.17" y="82.07"/><use href="#xx" x="194.33" y="82.36"/><use href="#xx" x="195.48" y="82.64"/><use href="#xx" x="196.61" y="82.93"/><use href="#xx" x="197.72" y="83.2"/><use href="#xx" x="198.81" y="83.48"/><use href="#xx" x="199.9" y="83.75"/><use href="#xx" x="200.96" y="84.02"/><use href="#xx" x="202.01" y="84.3"/><use href="#xx" x="203.05" y="84.58"/><use href="#xx" x="204.07" y="84.85"/><use href="#xx" x="205.08" y="85.12"/><use href="#xx" x="206.08" y="85.39"/><use href="#xx" x="207.06" y="85.65"/><use href="#xx" x="208.03" y="85.91"/><use href="#xx" x="208.99" y="86.17"/><use href="#xx" x="209.94" y="86.42"/><use href="#xx" x="210.87" y="86.68"/><use href="#xx" x="211.8" y="86.96"/><use href="#xx" x="212.71" y="87.23"/><use href="#xx" x="213.61" y="87.5"/><use href="#xx" x="214.5" y="87.77"/><use href="#xx" x="215.39" y="88.12"/><use href="#xx" x="216.26" y="88.48"/><use href="#xx" x="217.12" y="88.84"/><use href="#xx" x="217.97" y="89.19"/><use href="#xx" x="218.81" y="89.54"/><use href="#xx" x="219.64" y="89.88"/><use href="#xx" x="220.47" y="90.22"/><use href="#xx" x="221.28" y="90.56"/><use href="#xx" x="222.09" y="90.89"/><use href="#xx" x="222.89" y="91.22"/><use href="#xx" x="223.68" y="91.54"/><use href="#xx" x="224.46" y="91.88"/><use href="#xx" x="225.23" y="92.27"/><use href="#xx" x="226" y="92.65"/><use href="#xx" x="226.76" y="93.03"/><use href="#xx" x="227.51" y="93.4"/><use href="#xx" x="228.25" y="93.78"/><use href="#xx" x="228.99" y="94.14"/><use href="#xx" x="229.72" y="94.51"/><use href="#xx" x="230.44" y="94.87"/><use href="#xx" x="231.16" y="95.23"/><use href="#xx" x="231.87" y="95.58"/><use href="#xx" x="232.57" y="95.93"/><use href="#xx" x="233.26" y="96.28"/><use href="#xx" x="233.95" y="96.64"/><use href="#xx" x="234.64" y="97.16"/><use href="#xx" x="235.32" y="97.67"/><use href="#xx" x="235.99" y="98.17"/><use href="#xx" x="236.65" y="98.67"/><use href="#xx" x="237.31" y="99.17"/><use href="#xx" x="237.97" y="99.66"/><use href="#xx" x="238.62" y="100.15"/><use href="#xx" x="239.26" y="100.64"/><use href="#xx" x="239.9" y="101.12"/><use href="#xx" x="240.53" y="101.59"/><use href="#xx" x="241.16" y="102.06"/><use href="#xx" x="241.78" y="102.53"/><use href="#xx" x="242.4" y="103.03"/><use href="#xx" x="243.01" y="103.55"/><use href="#xx" x="243.62" y="104.06"/><use href="#xx" x="244.22" y="104.57"/><use href="#xx" x="244.82" y="105.08"/><use href="#xx" x="245.41" y="105.58"/><use href="#xx" x="246" y="106.08"/><use href="#xx" x="246.58" y="106.53"/><use href="#xx" x="247.16" y="106.72"/><use href="#xx" x="247.74" y="106.9"/><use href="#xx" x="248.31" y="107.09"/><use href="#xx" x="248.87" y="107.27"/><use href="#xx" x="249.44" y="107.46"/><use href="#xx" x="249.99" y="107.64"/><use href="#xx" x="250.55" y="107.82"/><use href="#xx" x="251.1" y="108"/><use href="#xx" x="251.65" y="108.18"/><use href="#xx" x="252.19" y="108.36"/><use href="#xx" x="252.73" y="108.53"/><use href="#xx" x="253.26" y="108.71"/><use href="#xx" x="253.79" y="108.88"/><use href="#xx" x="254.32" y="109.05"/><use href="#xx" x="254.84" y="109.22"/><use href="#xx" x="255.36" y="109.39"/><use href="#xx" x="255.88" y="109.56"/><use href="#xx" x="256.39" y="109.69"/><use href="#xx" x="256.9" y="109.8"/><use href="#xx" x="257.41" y="109.92"/><use href="#xx" x="257.91" y="110.03"/><use href="#xx" x="258.41" y="110.14"/><use href="#xx" x="258.91" y="110.25"/><use href="#xx" x="259.4" y="110.37"/><use href="#xx" x="259.89" y="110.48"/><use href="#xx" x="260.38" y="110.59"/><use href="#xx" x="260.86" y="110.69"/><use href="#xx" x="261.35" y="110.8"/><use href="#xx" x="261.82" y="110.91"/><use href="#xx" x="262.3" y="111.02"/><use href="#xx" x="262.77" y="111.12"/><use href="#xx" x="263.24" y="111.23"/><use href="#xx" x="263.71" y="111.33"/><use href="#xx" x="264.17" y="111.45"/><use href="#xx" x="264.63" y="111.6"/><use href="#xx" x="265.09" y="111.74"/><use href="#xx" x="265.54" y="111.88"/><use href="#xx" x="265.99" y="112.02"/><use href="#xx" x="266.44" y="112.16"/><use href="#xx" x="266.89" y="112.3"/><use href="#xx" x="267.34" y="112.44"/><use href="#xx" x="267.78" y="112.58"/><use href="#xx" x="268.22" y="112.72"/><use href="#xx" x="268.65" y="112.85"/><use href="#xx" x="269.09" y="112.99"/><use href="#xx" x="269.52" y="113.12"/><use href="#xx" x="269.95" y="113.26"/><use href="#xx" x="270.38" y="113.39"/><use href="#xx" x="270.8" y="113.53"/><use href="#xx" x="271.22" y="113.66"/><use href="#xx" x="271.64" y="113.79"/><use href="#xx" x="272.06" y="113.92"/><use href="#xx" x="272.48" y="114.09"/><use href="#xx" x="272.89" y="114.25"/><use href="#xx" x="273.3" y="114.41"/><use href="#xx" x="273.71" y="114.57"/><use href="#xx" x="274.11" y="114.72"/><use href="#xx" x="274.52" y="114.88"/><use href="#xx" x="274.92" y="115.04"/><use href="#xx" x="275.32" y="115.19"/><use href="#xx" x="275.72" y="115.35"/><use href="#xx" x="276.12" y="115.5"/><use href="#xx" x="276.51" y="115.66"/><use href="#xx" x="276.9" y="115.81"/><use href="#xx" x="277.29" y="115.96"/><use href="#xx" x="277.68" y="116.11"/><use href="#xx" x="278.06" y="116.26"/><use href="#xx" x="278.45" y="116.41"/><use href="#xx" x="278.83" y="116.56"/><use href="#xx" x="279.21" y="116.71"/><use href="#xx" x="279.59" y="116.86"/><use href="#xx" x="279.97" y="117"/><use href="#xx" x="280.34" y="117.15"/><use href="#xx" x="280.71" y="117.29"/><use href="#xx" x="281.08" y="117.44"/><use href="#xx" x="281.45" y="117.58"/><use href="#xx" x="281.82" y="117.72"/><use href="#xx" x="282.19" y="117.87"/><use href="#xx" x="282.55" y="118.01"/><use href="#xx" x="282.91" y="118.15"/><use href="#xx" x="283.27" y="118.29"/><use href="#xx" x="283.63" y="118.51"/><use href="#xx" x="283.99" y="118.74"/><use href="#xx" x="284.34" y="118.97"/><use href="#xx" x="284.7" y="119.2"/><use href="#xx" x="285.05" y="119.43"/><use href="#xx" x="285.4" y="119.66"/><use href="#xx" x="285.75" y="119.88"/><use href="#xx" x="286.1" y="120.11"/><use href="#xx" x="286.44" y="120.33"/><use href="#xx" x="286.78" y="120.55"/><use href="#xx" x="287.13" y="120.77"/><use href="#xx" x="287.47" y="120.99"/><use href="#xx" x="287.81" y="121.21"/><use href="#xx" x="288.15" y="121.43"/><use href="#xx" x="288.48" y="121.65"/><use href="#xx" x="288.82" y="121.86"/><use href="#xx" x="289.15" y="122.08"/><use href="#xx" x="289.48" y="122.29"/><use href="#xx" x="289.81" y="122.51"/><use href="#xx" x="290.14" y="122.72"/><use href="#xx" x="290.47" y="122.93"/><use href="#xx" x="290.8" y="123.14"/><use href="#xx" x="291.12" y="123.35"/><use href="#xx" x="291.45" y="123.56"/><use href="#xx" x="291.77" y="123.77"/><use href="#xx" x="292.09" y="123.98"/><use href="#xx" x="292.41" y="124.18"/><use href="#xx" x="292.73" y="124.39"/><use href="#xx" x="293.04" y="124.61"/><use href="#xx" x="293.36" y="124.85"/><use href="#xx" x="293.67" y="125.1"/><use href="#xx" x="293.99" y="125.34"/><use href="#xx" x="294.3" y="125.58"/><use href="#xx" x="294.61" y="125.82"/><use href="#xx" x="294.92" y="126.06"/><use href="#xx" x="295.23" y="126.29"/><use href="#xx" x="295.53" y="126.53"/><use href="#xx" x="295.84" y="126.77"/><use href="#xx" x="296.14" y="127"/><use href="#xx" x="296.45" y="127.23"/><use href="#xx" x="296.75" y="127.47"/><use href="#xx" x="297.05" y="127.7"/><use href="#xx" x="297.35" y="127.93"/><use href="#xx" x="297.65" y="128.16"/><use href="#xx" x="297.94" y="128.41"/><use href="#xx" x="298.24" y="128.67"/><use href="#xx" x="298.53" y="128.93"/><use href="#xx" x="298.83" y="129.18"/><use href="#xx" x="299.12" y="129.44"/><use href="#xx" x="299.41" y="129.69"/><use href="#xx" x="299.7" y="129.94"/><use href="#xx" x="299.99" y="130.19"/><use href="#xx" x="300.28" y="130.29"/><use href="#xx" x="300.57" y="130.39"/><use href="#xx" x="300.85" y="130.48"/><use href="#xx" x="301.14" y="130.58"/><use href="#xx" x="301.42" y="130.67"/><use href="#xx" x="301.7" y="130.77"/><use href="#xx" x="301.99" y="130.86"/><use href="#xx" x="302.27" y="130.96"/><use href="#xx" x="302.55" y="131.05"/><use href="#xx" x="302.83" y="131.14"/><use href="#xx" x="303.1" y="131.23"/><use href="#xx" x="303.38" y="131.33"/><use href="#xx" x="303.66" y="131.42"/><use href="#xx" x="303.93" y="131.51"/><use href="#xx" x="304.2" y="131.6"/><use href="#xx" x="304.48" y="131.69"/><use href="#xx" x="304.75" y="131.78"/><use href="#xx" x="305.02" y="131.87"/><use href="#xx" x="305.29" y="131.96"/><use href="#xx" x="305.56" y="132.05"/><use href="#xx" x="305.83" y="132.13"/><use href="#xx" x="306.09" y="132.22"/><use href="#xx" x="306.36" y="132.31"/><use href="#xx" x="306.62" y="132.4"/><use href="#xx" x="306.89" y="132.48"/><use href="#xx" x="307.15" y="132.57"/><use href="#xx" x="307.41" y="132.66"/><use href="#xx" x="307.67" y="132.74"/><use href="#xx" x="307.94" y="132.83"/><use href="#xx" x="308.19" y="132.92"/><use href="#xx" x="308.45" y="133"/><use href="#xx" x="308.71" y="133.09"/><use href="#xx" x="308.97" y="133.17"/><use href="#xx" x="309.22" y="133.26"/><use href="#xx" x="309.48" y="133.34"/><use href="#xx" x="309.73" y="133.42"/><use href="#xx" x="309.99" y="133.51"/><use href="#xx" x="310.24" y="133.59"/><use href="#xx" x="310.49" y="133.67"/><use href="#xx" x="310.74" y="133.76"/><use href="#xx" x="310.99" y="133.84"/><use href="#xx" x="311.24" y="133.92"/><use href="#xx" x="311.49" y="134"/><use href="#xx" x="311.74" y="134.09"/><use href="#xx" x="311.99" y="134.17"/><use href="#xx" x="312.23" y="134.25"/><use href="#xx" x="312.48" y="134.33"/><use href="#xx" x="312.72" y="134.41"/><use href="#xx" x="312.97" y="134.49"/><use href="#xx" x="313.21" y="134.57"/><use href="#xx" x="313.45" y="134.66"/><use href="#xx" x="313.7" y="134.75"/><use href="#xx" x="313.94" y="134.85"/><use href="#xx" x="314.18" y="134.94"/><use href="#xx" x="314.42" y="135.04"/><use href="#xx" x="314.65" y="135.13"/><use href="#xx" x="314.89" y="135.22"/><use href="#xx" x="315.13" y="135.32"/><use href="#xx" x="315.37" y="135.41"/><use href="#xx" x="315.6" y="135.5"/><use href="#xx" x="315.84" y="135.59"/><use href="#xx" x="316.07" y="135.68"/><use href="#xx" x="316.3" y="135.78"/><use href="#xx" x="316.54" y="135.87"/><use href="#xx" x="316.77" y="135.96"/><use href="#xx" x="317" y="136.05"/><use href="#xx" x="317.23" y="136.14"/><use href="#xx" x="317.46" y="136.23"/><use href="#xx" x="317.69" y="136.32"/><use href="#xx" x="317.92" y="136.41"/><use href="#xx" x="318.15" y="136.5"/><use href="#xx" x="318.37" y="136.58"/><use href="#xx" x="318.6" y="136.67"/><use href="#xx" x="318.82" y="136.76"/><use href="#xx" x="319.05" y="136.85"/><use href="#xx" x="319.27" y="136.94"/><use href="#xx" x="319.5" y="137.03"/><use href="#xx" x="319.72" y="137.11"/><use href="#xx" x="319.94" y="137.2"/><use href="#xx" x="320.17" y="137.29"/><use href="#xx" x="320.39" y="137.37"/><use href="#xx" x="320.61" y="137.46"/><use href="#xx" x="320.83" y="137.55"/><use href="#xx" x="321.05" y="137.63"/><use href="#xx" x="321.27" y="137.72"/><use href="#xx" x="321.48" y="137.8"/><use href="#xx" x="321.7" y="137.89"/><use href="#xx" x="321.92" y="137.97"/><use href="#xx" x="322.13" y="138.06"/><use href="#xx" x="322.35" y="138.14"/><use href="#xx" x="322.57" y="138.23"/><use href="#xx" x="322.78" y="138.32"/><use href="#xx" x="322.99" y="138.42"/><use href="#xx" x="323.21" y="138.51"/><use href="#xx" x="323.42" y="138.61"/><use href="#xx" x="323.63" y="138.7"/><use href="#xx" x="323.84" y="138.79"/><use href="#xx" x="324.05" y="138.89"/><use href="#xx" x="324.26" y="138.98"/><use href="#xx" x="324.47" y="139.07"/><use href="#xx" x="324.68" y="139.16"/><use href="#xx" x="324.89" y="139.26"/><use href="#xx" x="325.1" y="139.35"/><use href="#xx" x="325.31" y="139.44"/><use href="#xx" x="325.51" y="139.53"/><use href="#xx" x="325.72" y="139.62"/><use href="#xx" x="325.93" y="139.71"/><use href="#xx" x="326.13" y="139.8"/><use href="#xx" x="326.33" y="139.89"/><use href="#xx" x="326.54" y="139.98"/><use href="#xx" x="326.74" y="140.07"/><use href="#xx" x="326.95" y="140.2"/><use href="#xx" x="327.15" y="140.33"/><use href="#xx" x="327.35" y="140.47"/><use href="#xx" x="327.55" y="140.6"/><use href="#xx" x="327.75" y="140.73"/><use href="#xx" x="327.95" y="140.87"/><use href="#xx" x="328.15" y="141"/><use href="#xx" x="328.35" y="141.13"/><use href="#xx" x="328.55" y="141.27"/><use href="#xx" x="328.75" y="141.4"/><use href="#xx" x="328.95" y="141.53"/><use href="#xx" x="329.14" y="141.66"/><use href="#xx" x="329.34" y="141.79"/><use href="#xx" x="329.54" y="141.92"/><use href="#xx" x="329.73" y="142.05"/><use href="#xx" x="329.93" y="142.18"/><use href="#xx" x="330.12" y="142.31"/><use href="#xx" x="330.32" y="142.44"/><use href="#xx" x="330.51" y="142.57"/><use href="#xx" x="330.7" y="142.7"/><use href="#xx" x="330.9" y="142.83"/><use href="#xx" x="331.09" y="142.96"/><use href="#xx" x="331.28" y="143.09"/><use href="#xx" x="331.47" y="143.21"/><use href="#xx" x="331.66" y="143.38"/><use href="#xx" x="331.85" y="143.61"/><use href="#xx" x="332.04" y="143.84"/><use href="#xx" x="332.23" y="144.07"/><use href="#xx" x="332.42" y="144.3"/><use href="#xx" x="332.61" y="144.53"/><use href="#xx" x="332.8" y="144.76"/><use href="#xx" x="332.98" y="144.99"/><use href="#xx" x="333.17" y="145.22"/><use href="#xx" x="333.36" y="145.45"/><use href="#xx" x="333.54" y="145.68"/><use href="#xx" x="333.73" y="145.9"/><use href="#xx" x="333.91" y="146.13"/><use href="#xx" x="334.1" y="146.35"/><use href="#xx" x="334.28" y="146.58"/><use href="#xx" x="334.47" y="146.8"/><use href="#xx" x="334.65" y="147.03"/><use href="#xx" x="334.83" y="147.25"/><use href="#xx" x="335.02" y="147.48"/><use href="#xx" x="335.2" y="147.7"/><use href="#xx" x="335.38" y="147.92"/><use href="#xx" x="335.56" y="148.14"/><use href="#xx" x="335.74" y="148.36"/><use href="#xx" x="335.92" y="148.58"/><use href="#xx" x="336.1" y="148.8"/><use href="#xx" x="336.28" y="149.08"/><use href="#xx" x="336.46" y="149.36"/><use href="#xx" x="336.64" y="149.64"/><use href="#xx" x="336.82" y="149.91"/><use href="#xx" x="337" y="150.19"/><use href="#xx" x="337.17" y="150.46"/><use href="#xx" x="337.35" y="150.74"/><use href="#xx" x="337.53" y="151.01"/><use href="#xx" x="337.7" y="151.28"/><use href="#xx" x="337.88" y="151.56"/><use href="#xx" x="338.05" y="151.83"/><use href="#xx" x="338.23" y="152.1"/><use href="#xx" x="338.4" y="152.37"/><use href="#xx" x="338.58" y="152.64"/><use href="#xx" x="338.75" y="152.91"/><use href="#xx" x="338.93" y="153.18"/><use href="#xx" x="339.1" y="153.44"/><use href="#xx" x="339.27" y="153.75"/><use href="#xx" x="339.44" y="154.12"/><use href="#xx" x="339.62" y="154.49"/><use href="#xx" x="339.79" y="154.85"/><use href="#xx" x="339.96" y="155.22"/><use href="#xx" x="340.13" y="155.58"/><use href="#xx" x="340.3" y="155.94"/><use href="#xx" x="340.47" y="156.3"/><use href="#xx" x="340.64" y="156.67"/><use href="#xx" x="340.81" y="157.03"/><use href="#xx" x="340.98" y="157.39"/><use href="#xx" x="341.15" y="157.74"/><use href="#xx" x="341.31" y="158.1"/><use href="#xx" x="341.48" y="158.46"/><use href="#xx" x="341.65" y="158.81"/><use href="#xx" x="341.82" y="159.16"/><use href="#xx" x="341.98" y="159.51"/><use href="#xx" x="342.15" y="159.85"/><use href="#xx" x="342.31" y="160.2"/><use href="#xx" x="342.48" y="160.54"/><use href="#xx" x="342.64" y="160.89"/><use href="#xx" x="342.81" y="161.23"/><use href="#xx" x="342.97" y="161.58"/><use href="#xx" x="343.14" y="161.92"/><use href="#xx" x="343.3" y="162.26"/><use href="#xx" x="343.47" y="162.6"/><use href="#xx" x="343.63" y="162.94"/><use href="#xx" x="343.79" y="163.28"/><use href="#xx" x="343.95" y="163.72"/><use href="#xx" x="344.12" y="164.16"/><use href="#xx" x="344.28" y="164.6"/><use href="#xx" x="344.44" y="165.04"/><use href="#xx" x="344.6" y="165.49"/><use href="#xx" x="344.76" y="165.92"/><use href="#xx" x="344.92" y="166.36"/><use href="#xx" x="345.08" y="166.8"/><use href="#xx" x="345.24" y="167.4"/><use href="#xx" x="345.4" y="168.01"/><use href="#xx" x="345.56" y="168.61"/><use href="#xx" x="345.72" y="169.21"/><use href="#xx" x="345.87" y="169.81"/><use href="#xx" x="346.03" y="170.4"/><use href="#xx" x="346.19" y="171"/><use href="#xx" x="346.35" y="172.13"/><use href="#xx" x="346.5" y="173.25"/><use href="#xx" x="346.66" y="174.38"/><use href="#xx" x="346.82" y="175.5"/><use href="#xx" x="346.97" y="177"/><use href="#xx" x="347.13" y="178.5"/><use href="#xx" x="347.28" y="180"/><use href="#xx" x="347.44" y="181.67"/><use href="#xx" x="347.59" y="183.34"/><use href="#xx" x="347.75" y="185"/><use href="#xx" x="347.9" y="186.84"/><use href="#xx" x="348.06" y="188.67"/><use href="#xx" x="348.21" y="190.5"/><use href="#xx" x="348.36" y="192.44"/><use href="#xx" x="348.52" y="194.37"/><use href="#xx" x="348.67" y="196.3"/><use href="#xx" x="348.82" y="198.27"/><use href="#xx" x="348.97" y="200.24"/><use href="#xx" x="349.13" y="202.2"/><use href="#xx" x="349.28" y="204.2"/><use href="#xx" x="349.43" y="206.2"/><use href="#xx" x="349.58" y="208.6"/><use href="#xx" x="349.73" y="211.5"/><use href="#xx" x="349.88" y="216.9"/><use href="#xx" x="350.03" y="220.5"/><use href="#xx" x="350.18" y="223.9"/><use href="#xx" x="350.33" y="228.7"/><use href="#xx" x="350.48" y="239.45"/><use href="#xx" x="350.63" y="239.58"/><use href="#xx" x="350.77" y="239.67"/><use href="#xx" x="350.92" y="238.87"/><use href="#xx" x="351.07" y="239.33"/><use href="#xx" x="351.22" y="239.31"/><use href="#xx" x="351.36" y="239.7"/><use href="#xx" x="351.51" y="239.67"/><use href="#xx" x="351.66" y="239.69"/><use href="#xx" x="351.81" y="239.4"/><use href="#xx" x="351.95" y="239.77"/><use href="#xx" x="352.1" y="239.52"/><use href="#xx" x="352.24" y="239.53"/><use href="#xx" x="352.39" y="238.98"/><use href="#xx" x="352.53" y="238.74"/><use href="#xx" x="352.68" y="238.86"/><use href="#xx" x="352.82" y="239.13"/><use href="#xx" x="352.97" y="238.83"/><use href="#xx" x="353.11" y="239.7"/><use href="#xx" x="353.25" y="239.37"/><use href="#xx" x="353.4" y="239.45"/><use href="#xx" x="353.54" y="239.45"/><use href="#xx" x="353.68" y="239.52"/><use href="#xx" x="353.83" y="239.29"/><use href="#xx" x="353.97" y="238.7"/><use href="#xx" x="354.11" y="239.66"/><use href="#xx" x="354.25" y="239.6"/><use href="#xx" x="354.39" y="239.3"/><use href="#xx" x="354.54" y="239.34"/><use href="#xx" x="354.68" y="239.49"/><use href="#xx" x="354.82" y="238.78"/><use href="#xx" x="354.96" y="239.58"/><use href="#xx" x="355.1" y="239"/><use href="#xx" x="355.24" y="238.79"/><use href="#xx" x="355.38" y="239.02"/><use href="#xx" x="355.52" y="239.58"/><use href="#xx" x="355.66" y="238.95"/><use href="#xx" x="355.79" y="239.59"/><use href="#xx" x="355.93" y="239.87"/><use href="#xx" x="356.07" y="239.29"/><use href="#xx" x="356.21" y="239.16"/><use href="#xx" x="356.35" y="239.27"/><use href="#xx" x="356.49" y="239.52"/><use href="#xx" x="356.62" y="239.62"/><use href="#xx" x="356.76" y="239.44"/><use href="#xx" x="356.9" y="239.47"/><use href="#xx" x="357.03" y="238.79"/><use href="#xx" x="357.17" y="238.88"/><use href="#xx" x="357.31" y="239"/><use href="#xx" x="357.44" y="239.59"/><use href="#xx" x="357.58" y="239.07"/><use href="#xx" x="357.71" y="239.38"/><use href="#xx" x="357.85" y="238.72"/><use href="#xx" x="357.98" y="238.77"/><use href="#xx" x="358.12" y="239.02"/><use href="#xx" x="358.25" y="239.51"/><use href="#xx" x="358.39" y="239.53"/><use href="#xx" x="358.52" y="239.51"/><use href="#xx" x="358.66" y="239.05"/><use href="#xx" x="358.79" y="239.32"/><use href="#xx" x="358.92" y="239.26"/><use href="#xx" x="359.06" y="239.26"/><use href="#xx" x="359.19" y="238.84"/><use href="#xx" x="359.32" y="239.77"/><use href="#xx" x="359.45" y="238.94"/><use href="#xx" x="359.59" y="239.87"/><use href="#xx" x="359.72" y="239.82"/><use href="#xx" x="359.85" y="238.72"/><use href="#xx" x="359.98" y="239.25"/><use href="#xx" x="360.11" y="239.69"/><use href="#xx" x="360.24" y="239.86"/><use href="#xx" x="360.37" y="239.24"/><use href="#xx" x="360.51" y="239.02"/><use href="#xx" x="360.64" y="238.95"/><use href="#xx" x="360.77" y="239.84"/><use href="#xx" x="360.9" y="238.95"/><use href="#xx" x="361.03" y="239.4"/><use href="#xx" x="361.16" y="238.87"/><use href="#xx" x="361.28" y="239.33"/><use href="#xx" x="361.41" y="239.85"/><use href="#xx" x="361.54" y="238.86"/><use href="#xx" x="361.67" y="239.69"/><use href="#xx" x="361.8" y="239.31"/><use href="#xx" x="361.93" y="239.77"/><use href="#xx" x="362.06" y="239.55"/><use href="#xx" x="362.18" y="238.98"/><use href="#xx" x="362.31" y="239.78"/><use href="#xx" x="362.44" y="239.29"/><use href="#xx" x="362.57" y="238.73"/><use href="#xx" x="362.69" y="238.71"/><use href="#xx" x="362.82" y="239.29"/><use href="#xx" x="362.95" y="239.25"/><use href="#xx" x="363.07" y="239.07"/><use href="#xx" x="363.2" y="238.87"/><use href="#xx" x="363.32" y="239.12"/><use href="#xx" x="363.45" y="239.08"/><use href="#xx" x="363.58" y="239.71"/><use href="#xx" x="363.7" y="238.71"/><use href="#xx" x="363.83" y="239.61"/><use href="#xx" x="363.95" y="239.71"/><use href="#xx" x="364.07" y="238.85"/><use href="#xx" x="364.2" y="239.82"/><use href="#xx" x="364.32" y="239.56"/><use href="#xx" x="364.45" y="239.79"/><use href="#xx" x="364.57" y="239.06"/><use href="#xx" x="364.7" y="239.15"/><use href="#xx" x="364.82" y="239.18"/><use href="#xx" x="364.94" y="239.91"/><use href="#xx" x="365.06" y="239.42"/><use href="#xx" x="365.19" y="239.14"/><use href="#xx" x="365.31" y="239.22"/><use href="#xx" x="365.43" y="239.04"/><use href="#xx" x="365.55" y="238.77"/><use href="#xx" x="365.68" y="238.83"/><use href="#xx" x="365.8" y="239.71"/><use href="#xx" x="365.92" y="239.05"/><use href="#xx" x="366.04" y="239.84"/><use href="#xx" x="366.16" y="239.01"/><use href="#xx" x="366.28" y="239.03"/><use href="#xx" x="366.41" y="239.33"/><use href="#xx" x="366.53" y="238.94"/><use href="#xx" x="366.65" y="239.16"/><use href="#xx" x="366.77" y="239.86"/><use href="#xx" x="366.89" y="239.78"/><use href="#xx" x="367.01" y="239.69"/><use href="#xx" x="367.13" y="239.47"/><use href="#xx" x="367.25" y="239.81"/><use href="#xx" x="367.37" y="239.85"/><use href="#xx" x="367.48" y="239.38"/><use href="#xx" x="367.6" y="239.58"/><use href="#xx" x="367.72" y="238.78"/><use href="#xx" x="367.84" y="239.6"/><use href="#xx" x="367.96" y="239.26"/><use href="#xx" x="368.08" y="239.63"/><use href="#xx" x="368.2" y="239.5"/><use href="#xx" x="368.31" y="239.07"/><use href="#xx" x="368.43" y="238.78"/><use href="#xx" x="368.55" y="239.84"/><use href="#xx" x="368.67" y="238.88"/><use href="#xx" x="368.78" y="239.29"/><use href="#xx" x="368.9" y="239.14"/><use href="#xx" x="369.02" y="239.09"/><use href="#xx" x="369.13" y="239.62"/><use href="#xx" x="369.25" y="239.9"/><use href="#xx" x="369.37" y="239.04"/><use href="#xx" x="369.48" y="239.52"/><use href="#xx" x="369.6" y="239.1"/><use href="#xx" x="369.71" y="239.4"/><use href="#xx" x="369.83" y="239.21"/><use href="#xx" x="369.95" y="238.94"/><use href="#xx" x="370.06" y="238.93"/><use href="#xx" x="370.18" y="238.99"/><use href="#xx" x="370.29" y="239.83"/><use href="#xx" x="370.41" y="239.34"/><use href="#xx" x="370.52" y="239.01"/><use href="#xx" x="370.63" y="239.84"/><use href="#xx" x="370.75" y="239.95"/><use href="#xx" x="370.86" y="239.29"/><use href="#xx" x="370.98" y="238.91"/><use href="#xx" x="371.09" y="238.98"/><use href="#xx" x="371.2" y="238.86"/><use href="#xx" x="371.32" y="239.16"/><use href="#xx" x="371.43" y="238.86"/><use href="#xx" x="371.54" y="239.04"/><use href="#xx" x="371.66" y="239.07"/><use href="#xx" x="371.77" y="239.44"/><use href="#xx" x="371.88" y="239.83"/><use href="#xx" x="371.99" y="239.66"/><use href="#xx" x="372.11" y="239.26"/><use href="#xx" x="372.22" y="239.26"/><use href="#xx" x="372.33" y="239.4"/><use href="#xx" x="372.44" y="239.22"/><use href="#xx" x="372.55" y="239.18"/><use href="#xx" x="372.66" y="238.84"/><use href="#xx" x="372.77" y="239.11"/><use href="#xx" x="372.89" y="239.94"/><use href="#xx" x="373" y="238.93"/><use href="#xx" x="373.11" y="239.38"/><use href="#xx" x="373.22" y="239.54"/><use href="#xx" x="373.33" y="239.82"/><use href="#xx" x="373.44" y="239.04"/><use href="#xx" x="373.55" y="239.11"/><use href="#xx" x="373.66" y="239.09"/><use href="#xx" x="373.77" y="239.27"/><use href="#xx" x="373.88" y="239.33"/><use href="#xx" x="373.99" y="239.95"/><use href="#xx" x="374.1" y="239.82"/><use href="#xx" x="374.21" y="239.86"/><use href="#xx" x="374.31" y="238.82"/><use href="#xx" x="374.42" y="238.84"/><use href="#xx" x="374.53" y="239.66"/><use href="#xx" x="374.64" y="239.89"/><use href="#xx" x="374.75" y="239.38"/><use href="#xx" x="374.86" y="239.52"/><use href="#xx" x="374.97" y="238.81"/><use href="#xx" x="375.07" y="239.29"/><use href="#xx" x="375.18" y="239.95"/><use href="#xx" x="375.29" y="239.83"/><use href="#xx" x="375.4" y="239.87"/><use href="#xx" x="375.5" y="240.01"/><use href="#xx" x="375.61" y="239.13"/><use href="#xx" x="375.72" y="238.96"/><use href="#xx" x="375.82" y="239.02"/><use href="#xx" x="375.93" y="239.47"/><use href="#xx" x="376.04" y="239.67"/><use href="#xx" x="376.14" y="239.99"/><use href="#xx" x="376.25" y="239.73"/><use href="#xx" x="376.36" y="239.64"/><use href="#xx" x="376.46" y="239.79"/><use href="#xx" x="376.57" y="239.41"/><use href="#xx" x="376.67" y="239.53"/><use href="#xx" x="376.78" y="238.9"/><use href="#xx" x="376.88" y="239.82"/><use href="#xx" x="376.99" y="239.15"/><use href="#xx" x="377.09" y="240"/><use href="#xx" x="377.2" y="239.67"/><use href="#xx" x="377.3" y="239.25"/><use href="#xx" x="377.41" y="239.03"/><use href="#xx" x="377.51" y="239.19"/><use href="#xx" x="377.62" y="239.67"/><use href="#xx" x="377.72" y="239.75"/><use href="#xx" x="377.83" y="239.02"/><use href="#xx" x="377.93" y="238.98"/><use href="#xx" x="378.03" y="239.55"/><use href="#xx" x="378.14" y="239.62"/><use href="#xx" x="378.24" y="239.38"/><use href="#xx" x="378.34" y="239.18"/><use href="#xx" x="378.45" y="239.66"/><use href="#xx" x="378.55" y="238.92"/><use href="#xx" x="378.65" y="239.29"/><use href="#xx" x="378.76" y="239.5"/><use href="#xx" x="378.86" y="240.13"/><use href="#xx" x="378.96" y="239.74"/><use href="#xx" x="379.06" y="240.04"/><use href="#xx" x="379.17" y="239.53"/><use href="#xx" x="379.27" y="239.23"/><use href="#xx" x="379.37" y="239.25"/><use href="#xx" x="379.47" y="240.16"/><use href="#xx" x="379.57" y="239.84"/><use href="#xx" x="379.67" y="239.34"/><use href="#xx" x="379.78" y="238.98"/><use href="#xx" x="379.88" y="239.6"/><use href="#xx" x="379.98" y="239.83"/><use href="#xx" x="380.08" y="239.51"/><use href="#xx" x="380.18" y="239.3"/><use href="#xx" x="380.28" y="239.83"/><use href="#xx" x="380.38" y="240.17"/><use href="#xx" x="380.48" y="239.28"/><use href="#xx" x="380.58" y="239.03"/><use href="#xx" x="380.68" y="239.43"/><use href="#xx" x="380.78" y="239.54"/><use href="#xx" x="380.88" y="239.89"/><use href="#xx" x="380.98" y="239.27"/><use href="#xx" x="381.08" y="240.05"/><use href="#xx" x="381.18" y="239.98"/><use href="#xx" x="381.28" y="239.68"/><use href="#xx" x="381.38" y="239.3"/><use href="#xx" x="381.48" y="240.31"/><use href="#xx" x="381.58" y="239.45"/><use href="#xx" x="381.68" y="240.12"/><use href="#xx" x="381.78" y="239.35"/><use href="#xx" x="381.88" y="239.35"/><use href="#xx" x="381.97" y="240.07"/><use href="#xx" x="382.07" y="239.46"/><use href="#xx" x="382.17" y="240.34"/><use href="#xx" x="382.27" y="239.74"/><use href="#xx" x="382.37" y="239.33"/><use href="#xx" x="382.46" y="239.38"/><use href="#xx" x="382.56" y="239.65"/><use href="#xx" x="382.66" y="239.99"/><use href="#xx" x="382.76" y="240.38"/><use href="#xx" x="382.86" y="239.31"/><use href="#xx" x="382.95" y="239.65"/><use href="#xx" x="383.05" y="239.41"/><use href="#xx" x="383.15" y="240.45"/><use href="#xx" x="383.24" y="239.32"/><use href="#xx" x="383.34" y="239.21"/><use href="#xx" x="383.44" y="239.23"/><use href="#xx" x="383.53" y="239.69"/><use href="#xx" x="383.63" y="240.39"/><use href="#xx" x="383.73" y="240.38"/><use href="#xx" x="383.82" y="240.18"/><use href="#xx" x="383.92" y="240.56"/><use href="#xx" x="384.01" y="240.48"/><use href="#xx" x="384.11" y="239.65"/><use href="#xx" x="384.21" y="239.45"/><use href="#xx" x="384.3" y="240.52"/><use href="#xx" x="384.4" y="240.26"/><use href="#xx" x="384.49" y="239.26"/><use href="#xx" x="384.59" y="240.16"/><use href="#xx" x="384.68" y="239.76"/><use href="#xx" x="384.78" y="239.77"/><use href="#xx" x="384.87" y="239.71"/><use href="#xx" x="384.97" y="239.49"/><use href="#xx" x="385.06" y="239.26"/><use href="#xx" x="385.16" y="239.66"/><use href="#xx" x="385.25" y="239.78"/><use href="#xx" x="385.34" y="240.66"/><use href="#xx" x="385.44" y="239.46"/><use href="#xx" x="385.53" y="240.7"/><use href="#xx" x="385.63" y="239.6"/><use href="#xx" x="385.72" y="239.83"/><use href="#xx" x="385.81" y="240.53"/><use href="#xx" x="385.91" y="240.54"/><use href="#xx" x="386" y="239.97"/><use href="#xx" x="386.09" y="239.41"/><use href="#xx" x="386.19" y="240.05"/><use href="#xx" x="386.28" y="239.91"/><use href="#xx" x="386.37" y="240.75"/><use href="#xx" x="386.47" y="239.66"/><use href="#xx" x="386.56" y="239.92"/><use href="#xx" x="386.65" y="240.75"/><use href="#xx" x="386.75" y="239.43"/><use href="#xx" x="386.84" y="240.03"/><use href="#xx" x="386.93" y="240.66"/><use href="#xx" x="387.02" y="240.6"/><use href="#xx" x="387.11" y="239.48"/><use href="#xx" x="387.21" y="239.48"/><use href="#xx" x="387.3" y="239.53"/><use href="#xx" x="387.39" y="240.9"/><use href="#xx" x="387.48" y="239.86"/><use href="#xx" x="387.57" y="240.65"/><use href="#xx" x="387.66" y="240.91"/><use href="#xx" x="387.76" y="240.02"/><use href="#xx" x="387.85" y="239.92"/><use href="#xx" x="387.94" y="241.05"/><use href="#xx" x="388.03" y="240.51"/><use href="#xx" x="388.12" y="239.94"/><use href="#xx" x="388.21" y="240.7"/><use href="#xx" x="388.3" y="240.05"/><use href="#xx" x="388.39" y="239.99"/><use href="#xx" x="388.48" y="239.55"/><use href="#xx" x="388.57" y="240.82"/><use href="#xx" x="388.66" y="241.1"/><use href="#xx" x="388.75" y="240.64"/><use href="#xx" x="388.84" y="241.18"/><use href="#xx" x="388.93" y="239.63"/><use href="#xx" x="389.02" y="240"/><use href="#xx" x="389.11" y="240.43"/><use href="#xx" x="389.2" y="241.28"/><use href="#xx" x="389.29" y="241.29"/><use href="#xx" x="389.38" y="240.31"/><use href="#xx" x="389.47" y="240.09"/><use href="#xx" x="389.56" y="240.42"/><use href="#xx" x="389.65" y="240.54"/><use href="#xx" x="389.74" y="241.33"/><use href="#xx" x="389.83" y="240.01"/><use href="#xx" x="389.92" y="241.14"/><use href="#xx" x="390" y="241.05"/><use href="#xx" x="390.09" y="241.22"/><use href="#xx" x="390.18" y="241.14"/><use href="#xx" x="390.27" y="240.85"/><use href="#xx" x="390.36" y="240.35"/><use href="#xx" x="390.45" y="240.35"/><use href="#xx" x="390.53" y="240.44"/><use href="#xx" x="390.62" y="241.25"/><use href="#xx" x="390.71" y="239.94"/><use href="#xx" x="390.8" y="240.17"/><use href="#xx" x="390.89" y="241.25"/><use href="#xx" x="390.97" y="240.29"/><use href="#xx" x="391.06" y="239.95"/><use href="#xx" x="391.15" y="239.9"/><use href="#xx" x="391.24" y="240.93"/><use href="#xx" x="391.32" y="240.5"/><use href="#xx" x="391.41" y="241.82"/><use href="#xx" x="391.5" y="241.64"/><use href="#xx" x="391.58" y="241.88"/><use href="#xx" x="391.67" y="240.44"/><use href="#xx" x="391.76" y="240.09"/><use href="#xx" x="391.84" y="240.12"/><use href="#xx" x="391.93" y="240.96"/><use href="#xx" x="392.02" y="241.42"/><use href="#xx" x="392.1" y="240.89"/><use href="#xx" x="392.19" y="240.46"/><use href="#xx" x="392.27" y="240.86"/><use href="#xx" x="392.36" y="241.31"/><use href="#xx" x="392.45" y="241.44"/><use href="#xx" x="392.53" y="241.62"/><use href="#xx" x="392.62" y="241.86"/><use href="#xx" x="392.7" y="241.48"/><use href="#xx" x="392.79" y="240.32"/><use href="#xx" x="392.87" y="241.91"/><use href="#xx" x="392.96" y="240.72"/><use href="#xx" x="393.04" y="241.35"/><use href="#xx" x="393.13" y="240.93"/><use href="#xx" x="393.22" y="241.78"/><use href="#xx" x="393.3" y="240.57"/><use href="#xx" x="393.38" y="240.7"/><use href="#xx" x="393.47" y="240.71"/><use href="#xx" x="393.55" y="240.51"/><use href="#xx" x="393.64" y="242.23"/><use href="#xx" x="393.72" y="241.54"/><use href="#xx" x="393.81" y="240.97"/><use href="#xx" x="393.89" y="241.15"/><use href="#xx" x="393.98" y="242.6"/><use href="#xx" x="394.06" y="241.46"/><use href="#xx" x="394.14" y="240.81"/><use href="#xx" x="394.23" y="242.24"/><use href="#xx" x="394.31" y="241.88"/><use href="#xx" x="394.4" y="242.74"/><use href="#xx" x="394.48" y="240.55"/><use href="#xx" x="394.56" y="241.5"/><use href="#xx" x="394.65" y="242.4"/><use href="#xx" x="394.73" y="242.48"/><use href="#xx" x="394.81" y="242.7"/><use href="#xx" x="394.9" y="240.46"/><use href="#xx" x="394.98" y="241.14"/><use href="#xx" x="395.06" y="240.7"/><use href="#xx" x="395.14" y="240.9"/><use href="#xx" x="395.23" y="243"/><use href="#xx" x="395.31" y="241.99"/><use href="#xx" x="395.39" y="242.95"/><use href="#xx" x="395.48" y="241.46"/><use href="#xx" x="395.56" y="242.84"/><use href="#xx" x="395.64" y="241.72"/><use href="#xx" x="395.72" y="241.21"/><use href="#xx" x="395.8" y="242.68"/><use href="#xx" x="395.89" y="243.18"/><use href="#xx" x="395.97" y="240.83"/><use href="#xx" x="396.05" y="242.25"/><use href="#xx" x="396.13" y="242.34"/><use href="#xx" x="396.21" y="241.2"/><use href="#xx" x="396.3" y="241.66"/><use href="#xx" x="396.38" y="241.01"/><use href="#xx" x="396.46" y="241.22"/><use href="#xx" x="396.54" y="241.39"/><use href="#xx" x="396.62" y="242.45"/><use href="#xx" x="396.7" y="242.63"/><use href="#xx" x="396.78" y="241.29"/><use href="#xx" x="396.86" y="240.71"/><use href="#xx" x="396.95" y="241.71"/><use href="#xx" x="397.03" y="242.83"/><use href="#xx" x="397.11" y="241.31"/><use href="#xx" x="397.19" y="241.73"/><use href="#xx" x="397.27" y="241.4"/><use href="#xx" x="397.35" y="243.33"/><use href="#xx" x="397.43" y="242.56"/><use href="#xx" x="397.51" y="241"/><use href="#xx" x="397.59" y="241.14"/><use href="#xx" x="397.67" y="242.14"/><use href="#xx" x="397.75" y="242.68"/><use href="#xx" x="397.83" y="243.01"/><use href="#xx" x="397.91" y="241.18"/><use href="#xx" x="397.99" y="241.44"/><use href="#xx" x="398.07" y="243.3"/><use href="#xx" x="398.15" y="242.34"/><use href="#xx" x="398.23" y="241.92"/><use href="#xx" x="398.31" y="242.03"/><use href="#xx" x="398.39" y="244.35"/><use href="#xx" x="398.47" y="242.09"/><use href="#xx" x="398.55" y="243.03"/><use href="#xx" x="398.63" y="242.3"/><use href="#xx" x="398.71" y="242.54"/><use href="#xx" x="398.78" y="244.23"/><use href="#xx" x="398.86" y="244.76"/><use href="#xx" x="398.94" y="242.42"/><use href="#xx" x="399.02" y="241.82"/><use href="#xx" x="399.1" y="243.87"/><use href="#xx" x="399.18" y="241.89"/><use href="#xx" x="399.26" y="241.14"/><use href="#xx" x="399.34" y="244.66"/><use href="#xx" x="399.41" y="242.82"/><use href="#xx" x="399.49" y="244.42"/><use href="#xx" x="399.57" y="242.8"/><use href="#xx" x="399.65" y="244.75"/><use href="#xx" x="399.73" y="243.08"/><use href="#xx" x="399.8" y="241.89"/><use href="#xx" x="399.88" y="241.3"/><use href="#xx" x="399.96" y="243.55"/><use href="#xx" x="400.04" y="243.96"/><use href="#xx" x="400.12" y="245.13"/><use href="#xx" x="400.19" y="241.68"/><use href="#xx" x="400.27" y="243.99"/><use href="#xx" x="400.35" y="242.94"/><use href="#xx" x="400.43" y="243.55"/><use href="#xx" x="400.5" y="242.01"/><use href="#xx" x="400.58" y="242.63"/><use href="#xx" x="400.66" y="243.72"/><use href="#xx" x="400.73" y="245.57"/><use href="#xx" x="400.81" y="241.92"/><use href="#xx" x="400.89" y="243.68"/><use href="#xx" x="400.96" y="245.17"/><use href="#xx" x="401.04" y="245.96"/><use href="#xx" x="401.12" y="242.41"/><use href="#xx" x="401.19" y="242.1"/><use href="#xx" x="401.27" y="246"/><use href="#xx" x="401.35" y="246.21"/><use href="#xx" x="401.42" y="243.88"/><use href="#xx" x="401.5" y="241.83"/><use href="#xx" x="401.58" y="246.13"/><use href="#xx" x="401.65" y="243.52"/><use href="#xx" x="401.73" y="246.12"/><use href="#xx" x="401.8" y="244.75"/><use href="#xx" x="401.88" y="245.82"/><use href="#xx" x="401.96" y="242.48"/><use href="#xx" x="402.03" y="245.72"/><use href="#xx" x="402.11" y="242.85"/><use href="#xx" x="402.18" y="243.83"/><use href="#xx" x="402.26" y="246.19"/><use href="#xx" x="402.33" y="246.15"/><use href="#xx" x="402.41" y="242.74"/><use href="#xx" x="402.48" y="242.95"/><use href="#xx" x="402.56" y="243.97"/><use href="#xx" x="402.63" y="244.65"/><use href="#xx" x="402.71" y="243.94"/><use href="#xx" x="402.78" y="242.53"/><use href="#xx" x="402.86" y="243.25"/><use href="#xx" x="402.93" y="245.97"/><use href="#xx" x="403.01" y="247"/><use href="#xx" x="403.08" y="242.14"/><use href="#xx" x="403.16" y="245.18"/><use href="#xx" x="403.23" y="246.36"/><use href="#xx" x="403.31" y="242.18"/><use href="#xx" x="403.38" y="246.94"/><use href="#xx" x="403.46" y="242.69"/><use href="#xx" x="403.53" y="245.62"/><use href="#xx" x="403.6" y="245.36"/><use href="#xx" x="403.68" y="245.87"/>
</g>
<path clip-path="url(#c)" d="M70 9L73.9 12.4L86.4 22L98.9 27.3L108.5 32.1L118.2 37.9L127.8 43.6L139.4 51.9L146.1 54.7L155.8 58.5L162 61.4L165.6 62.8L170.7 66L175.9 69.4L180.1 71.8L185.5 75L190.3 78.7L193 80.5L200.4 83L206 85.2L215.6 89.6L221.4 92.5L231 97.3L236 101.4L240 104L244.5 107L250.8 108.9L260.9 112.7L267 114.4L276.5 118.5L282.3 121.8L291 126.7L296.8 130.6L306.5 133.4L312.8 134.9L322.9 138.2L329.2 140.7L338.4 144.9L344.2 147.8L350.6 152.8L403.5 152.8" fill="none" stroke="#ffa500" stroke-width="2.4" stroke-dasharray="10.9 5.97" stroke-dashoffset="11.35"/>
<rect x="50.5" y="12.5" width="353" height="247" fill="none" stroke="#000" stroke-width="1.15"/>
<path d="M103.33 259.5v-4M103.33 12.5v4M134.23 259.5v-4M134.23 12.5v4M156.16 259.5v-4M156.16 12.5v4M173.17 259.5v-4M173.17 12.5v4M187.07 259.5v-4M187.07 12.5v4M198.81 259.5v-4M198.81 12.5v4M208.99 259.5v-4M208.99 12.5v4M217.97 259.5v-4M217.97 12.5v4M226 259.5v-7.2M226 12.5v7.2M278.83 259.5v-4M278.83 12.5v4M309.73 259.5v-4M309.73 12.5v4M331.66 259.5v-4M331.66 12.5v4M348.67 259.5v-4M348.67 12.5v4M362.57 259.5v-4M362.57 12.5v4M374.31 259.5v-4M374.31 12.5v4M384.49 259.5v-4M384.49 12.5v4M393.47 259.5v-4M393.47 12.5v4M401.5 259.5v-7.2M401.5 12.5v7.2M50.5 47h7.2M403.5 47h-7.2M50.5 32.12h4M403.5 32.12h-4M50.5 23.42h4M403.5 23.42h-4M50.5 17.24h4M403.5 17.24h-4M50.5 145.86h7.2M403.5 145.86h-7.2M50.5 130.98h4M403.5 130.98h-4M50.5 122.28h4M403.5 122.28h-4M50.5 116.1h4M403.5 116.1h-4M50.5 111.31h4M403.5 111.31h-4M50.5 107.4h4M403.5 107.4h-4M50.5 104.09h4M403.5 104.09h-4M50.5 101.22h4M403.5 101.22h-4M50.5 98.69h4M403.5 98.69h-4M50.5 96.43h4M403.5 96.43h-4M50.5 244.72h7.2M403.5 244.72h-7.2M50.5 229.84h4M403.5 229.84h-4M50.5 221.14h4M403.5 221.14h-4M50.5 214.96h4M403.5 214.96h-4M50.5 210.17h4M403.5 210.17h-4M50.5 206.26h4M403.5 206.26h-4M50.5 202.95h4M403.5 202.95h-4M50.5 200.08h4M403.5 200.08h-4M50.5 197.55h4M403.5 197.55h-4M50.5 195.29h4M403.5 195.29h-4" fill="none" stroke="#000" stroke-width="0.75"/>
<g font-family="'Liberation Serif', serif" fill="#000">
<text transform="translate(86.62 9) scale(1 1.08)" font-size="12.1" text-anchor="middle">16</text>
<text transform="translate(139.45 9) scale(1 1.08)" font-size="12.1" text-anchor="middle">32</text>
<text transform="translate(192.28 9) scale(1 1.08)" font-size="12.1" text-anchor="middle">64</text>
<text transform="translate(245.12 9) scale(1 1.08)" font-size="12.1" text-anchor="middle">128</text>
<text transform="translate(297.95 9) scale(1 1.08)" font-size="12.1" text-anchor="middle">256</text>
<text transform="translate(350.78 9) scale(1 1.08)" font-size="12.1" text-anchor="middle">512</text>
<text transform="translate(51.3 272.2) scale(1 1.08)" font-size="13.2" text-anchor="middle">10</text>
<text transform="translate(226.6 272.2) scale(1 1.08)" font-size="13.2" text-anchor="middle">100</text>
<text transform="translate(403.1 272.2) scale(1 1.08)" font-size="13.2" text-anchor="middle">1000</text>
<text transform="translate(27.6 53.9) scale(1 1.12)" font-size="12.9" text-anchor="start">10<tspan font-size="8.5" dy="-6.9">-2</tspan></text>
<text transform="translate(27.6 153.16) scale(1 1.12)" font-size="12.9" text-anchor="start">10<tspan font-size="8.5" dy="-6.9">-4</tspan></text>
<text transform="translate(27.6 252.02) scale(1 1.12)" font-size="12.9" text-anchor="start">10<tspan font-size="8.5" dy="-6.9">-6</tspan></text>
<text transform="translate(202.7 285.6) scale(1 1)" font-size="15.5" text-anchor="start"><tspan font-size="17.5" dy="-0.4">|</tspan><tspan dy="0.4" dx="-0.3"> </tspan><tspan font-style="italic">x</tspan><tspan font-size="9.2" dy="5" dx="-0.3">2</tspan><tspan dy="-5" dx="-0.4"> - </tspan><tspan font-style="italic" dx="0.3">x</tspan><tspan font-size="9.2" dy="5" dx="-0.6">1</tspan><tspan dy="-5.4" dx="-0.4" font-size="17.5"> |</tspan></text>
<path d="M2.4 158.6L9 163L15.4 158.6M2.4 163.4L9 167.8L15.4 163.4M2.4 108.3L9 104.2L15.4 108.3M2.4 112.9L9 108.8L15.4 112.9" fill="none" stroke="#000" stroke-width="0.9"/>
<path d="M3.5 151.9V142.4M1.2 145.4L3.5 142.2L5.8 145.4M3.5 130.9V121.7M1.2 124.7L3.5 121.5L5.8 124.7" fill="none" stroke="#000" stroke-width="0.9"/>
<text transform="translate(14.4 151.8) rotate(-90)" font-size="13.6" font-style="italic">s</text>
<text transform="translate(19 146.5) rotate(-90)" font-size="10" font-style="italic">x</text>
<text transform="translate(23.7 141.6) rotate(-90)" font-size="7.2">1</text>
<text transform="translate(14.4 130.7) rotate(-90)" font-size="13.6" font-style="italic">s</text>
<text transform="translate(19 125) rotate(-90)" font-size="10" font-style="italic">x</text>
<text transform="translate(23.7 120.6) rotate(-90)" font-size="7.2">2</text>
<circle cx="12.5" cy="136.7" r="0.85"/>
<rect x="68.3" y="171.6" width="131.1" height="74.8" fill="#fff" stroke="#000" stroke-width="0.9"/>
<line x1="72.7" y1="184.4" x2="83.4" y2="184.4" stroke="#ffa500" stroke-width="2.1"/>
<text transform="translate(94.3 188.3) scale(1 1)" font-size="12.8" text-anchor="start">99 exp[ -0.742 L<tspan font-size="8.4" dy="5.5" dx="0.5">n</tspan><tspan font-size="8.4" dy="-12.2" dx="-5.8">(2)</tspan><tspan dy="6.7" dx="0.2"> ]</tspan></text>
<text transform="translate(94.3 206.4) scale(1 1)" font-size="12.9" text-anchor="start">L = 1024</text>
<text transform="translate(94.3 218.6) scale(1 1)" font-size="12.9" text-anchor="start">L = 512</text>
<text transform="translate(94.3 231.1) scale(1 1)" font-size="12.9" text-anchor="start">L = 256</text>
<text transform="translate(94.3 243.1) scale(1 1)" font-size="12.9" text-anchor="start">L = 128</text>
<g fill="#fff">
<path d="M80.1 201.6m-2.5-2.5l5 5m-5 0l5-5" stroke="#000" stroke-width="1.4"/>
<circle cx="80.1" cy="214.3" r="2.35" stroke="#f00" stroke-width="1.25"/>
<rect x="77.8" y="224.6" width="4.6" height="4.6" stroke="#008b00" stroke-width="1.25"/>
<path d="M80.1 239.2m0-3.3l3.3 3.3l-3.3 3.3l-3.3-3.3z" stroke="#00f" stroke-width="1.35"/>
</g>
</g>
</svg>
</body></html>
